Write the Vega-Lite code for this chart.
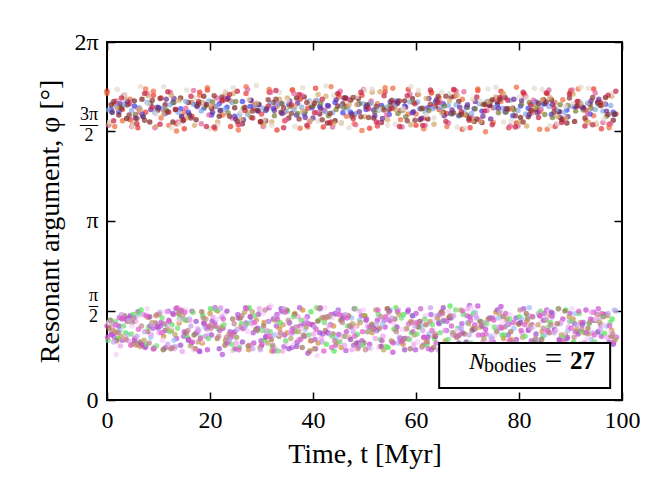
{
"$schema": "https://vega.github.io/schema/vega-lite/v6.json",
"width": 515, "height": 358,
"autosize": {"type": "none"},
"padding": {"left": 107, "top": 42, "right": 50, "bottom": 104},
"background": "white",
"config": {"view": {"stroke": "black", "strokeWidth": 2}, "font": "Liberation Serif"},
"layer": [
{"data": {"values": [
{"t":0,"p":5.42,"b":"u1"},{"t":3,"p":5.10,"b":"u1"},{"t":6,"p":4.78,"b":"u1"},{"t":9,"p":5.35,"b":"u1"},{"t":12,"p":5.05,"b":"u1"},{"t":15,"p":4.76,"b":"u1"},{"t":18,"p":5.40,"b":"u1"},{"t":21,"p":5.15,"b":"u1"},{"t":24,"p":4.80,"b":"u1"},{"t":27,"p":5.38,"b":"u1"},{"t":30,"p":5.02,"b":"u1"},{"t":33,"p":4.74,"b":"u1"},{"t":36,"p":5.44,"b":"u1"},{"t":39,"p":5.12,"b":"u1"},{"t":42,"p":4.79,"b":"u1"},{"t":45,"p":5.36,"b":"u1"},{"t":48,"p":5.00,"b":"u1"},{"t":51,"p":4.77,"b":"u1"},{"t":54,"p":5.41,"b":"u1"},{"t":57,"p":5.08,"b":"u1"},{"t":60,"p":4.82,"b":"u1"},{"t":63,"p":5.39,"b":"u1"},{"t":66,"p":5.03,"b":"u1"},{"t":69,"p":4.75,"b":"u1"},{"t":72,"p":5.43,"b":"u1"},{"t":75,"p":5.13,"b":"u1"},{"t":78,"p":4.78,"b":"u1"},{"t":81,"p":5.37,"b":"u1"},{"t":84,"p":5.06,"b":"u1"},{"t":87,"p":4.80,"b":"u1"},{"t":90,"p":5.40,"b":"u1"},{"t":93,"p":5.09,"b":"u1"},{"t":96,"p":4.76,"b":"u1"},
{"t":1.5,"p":5.20,"b":"u1"},{"t":4.5,"p":4.92,"b":"u1"},{"t":7.5,"p":5.05,"b":"u1"},{"t":10.5,"p":5.30,"b":"u1"},{"t":13.5,"p":4.85,"b":"u1"},{"t":16.5,"p":4.98,"b":"u1"},{"t":19.5,"p":5.44,"b":"u1"},{"t":22.5,"p":5.25,"b":"u1"},{"t":25.5,"p":4.83,"b":"u1"},{"t":28.5,"p":5.12,"b":"u1"},{"t":31.5,"p":5.40,"b":"u1"},{"t":34.5,"p":4.90,"b":"u1"},{"t":37.5,"p":5.28,"b":"u1"},{"t":40.5,"p":5.47,"b":"u1"},{"t":43.5,"p":4.88,"b":"u1"},{"t":46.5,"p":5.15,"b":"u1"},{"t":49.5,"p":5.35,"b":"u1"},{"t":52.5,"p":4.81,"b":"u1"},{"t":55.5,"p":5.22,"b":"u1"},{"t":58.5,"p":5.45,"b":"u1"},{"t":61.5,"p":4.95,"b":"u1"},{"t":64.5,"p":5.10,"b":"u1"},{"t":67.5,"p":5.33,"b":"u1"},{"t":70.5,"p":4.78,"b":"u1"},{"t":73.5,"p":5.18,"b":"u1"},{"t":76.5,"p":5.42,"b":"u1"},{"t":79.5,"p":4.86,"b":"u1"},{"t":82.5,"p":5.08,"b":"u1"},{"t":85.5,"p":5.38,"b":"u1"},{"t":88.5,"p":4.93,"b":"u1"},{"t":91.5,"p":5.24,"b":"u1"},{"t":94.5,"p":5.46,"b":"u1"},{"t":97.5,"p":4.84,"b":"u1"},
{"t":1.5,"p":4.80,"b":"u2"},{"t":4.5,"p":5.28,"b":"u2"},{"t":7.5,"p":5.46,"b":"u2"},{"t":10.5,"p":4.95,"b":"u2"},{"t":13.5,"p":4.72,"b":"u2"},{"t":16.5,"p":5.22,"b":"u2"},{"t":19.5,"p":5.48,"b":"u2"},{"t":22.5,"p":5.00,"b":"u2"},{"t":25.5,"p":4.74,"b":"u2"},{"t":28.5,"p":5.18,"b":"u2"},{"t":31.5,"p":5.45,"b":"u2"},{"t":34.5,"p":5.05,"b":"u2"},{"t":37.5,"p":4.77,"b":"u2"},{"t":40.5,"p":5.25,"b":"u2"},{"t":43.5,"p":5.50,"b":"u2"},{"t":46.5,"p":4.98,"b":"u2"},{"t":49.5,"p":4.73,"b":"u2"},{"t":52.5,"p":5.20,"b":"u2"},{"t":55.5,"p":5.47,"b":"u2"},{"t":58.5,"p":5.02,"b":"u2"},{"t":61.5,"p":4.76,"b":"u2"},{"t":64.5,"p":5.30,"b":"u2"},{"t":67.5,"p":5.44,"b":"u2"},{"t":70.5,"p":4.96,"b":"u2"},{"t":73.5,"p":4.71,"b":"u2"},{"t":76.5,"p":5.24,"b":"u2"},{"t":79.5,"p":5.49,"b":"u2"},{"t":82.5,"p":5.04,"b":"u2"},{"t":85.5,"p":4.75,"b":"u2"},{"t":88.5,"p":5.27,"b":"u2"},{"t":91.5,"p":5.46,"b":"u2"},{"t":94.5,"p":4.99,"b":"u2"},{"t":97.5,"p":4.78,"b":"u2"},
{"t":0,"p":5.38,"b":"u2"},{"t":3,"p":4.90,"b":"u2"},{"t":6,"p":5.12,"b":"u2"},{"t":9,"p":5.42,"b":"u2"},{"t":12,"p":4.82,"b":"u2"},{"t":15,"p":5.05,"b":"u2"},{"t":18,"p":5.35,"b":"u2"},{"t":21,"p":4.76,"b":"u2"},{"t":24,"p":5.25,"b":"u2"},{"t":27,"p":5.50,"b":"u2"},{"t":30,"p":4.88,"b":"u2"},{"t":33,"p":5.15,"b":"u2"},{"t":36,"p":5.44,"b":"u2"},{"t":39,"p":4.79,"b":"u2"},{"t":42,"p":5.08,"b":"u2"},{"t":45,"p":5.32,"b":"u2"},{"t":48,"p":4.85,"b":"u2"},{"t":51,"p":5.20,"b":"u2"},{"t":54,"p":5.48,"b":"u2"},{"t":57,"p":4.92,"b":"u2"},{"t":60,"p":5.02,"b":"u2"},{"t":63,"p":5.40,"b":"u2"},{"t":66,"p":4.80,"b":"u2"},{"t":69,"p":5.28,"b":"u2"},{"t":72,"p":5.46,"b":"u2"},{"t":75,"p":4.87,"b":"u2"},{"t":78,"p":5.10,"b":"u2"},{"t":81,"p":5.36,"b":"u2"},{"t":84,"p":4.75,"b":"u2"},{"t":87,"p":5.22,"b":"u2"},{"t":90,"p":5.43,"b":"u2"},{"t":93,"p":4.91,"b":"u2"},{"t":96,"p":5.17,"b":"u2"},
{"t":0.8,"p":5.10,"b":"u3"},{"t":3.8,"p":5.18,"b":"u3"},{"t":6.8,"p":5.02,"b":"u3"},{"t":9.8,"p":5.14,"b":"u3"},{"t":12.8,"p":5.22,"b":"u3"},{"t":15.8,"p":5.05,"b":"u3"},{"t":18.8,"p":5.12,"b":"u3"},{"t":21.8,"p":5.20,"b":"u3"},{"t":24.8,"p":4.98,"b":"u3"},{"t":27.8,"p":5.15,"b":"u3"},{"t":30.8,"p":5.08,"b":"u3"},{"t":33.8,"p":5.21,"b":"u3"},{"t":36.8,"p":5.00,"b":"u3"},{"t":39.8,"p":5.13,"b":"u3"},{"t":42.8,"p":5.17,"b":"u3"},{"t":45.8,"p":5.04,"b":"u3"},{"t":48.8,"p":5.19,"b":"u3"},{"t":51.8,"p":5.09,"b":"u3"},{"t":54.8,"p":5.01,"b":"u3"},{"t":57.8,"p":5.16,"b":"u3"},{"t":60.8,"p":5.11,"b":"u3"},{"t":63.8,"p":5.23,"b":"u3"},{"t":66.8,"p":5.03,"b":"u3"},{"t":69.8,"p":5.14,"b":"u3"},{"t":72.8,"p":5.07,"b":"u3"},{"t":75.8,"p":5.18,"b":"u3"},{"t":78.8,"p":4.99,"b":"u3"},{"t":81.8,"p":5.12,"b":"u3"},{"t":84.8,"p":5.20,"b":"u3"},{"t":87.8,"p":5.06,"b":"u3"},{"t":90.8,"p":5.15,"b":"u3"},{"t":93.8,"p":5.02,"b":"u3"},{"t":96.8,"p":5.19,"b":"u3"},
{"t":2.3,"p":5.06,"b":"u3"},{"t":5.3,"p":5.16,"b":"u3"},{"t":8.3,"p":5.21,"b":"u3"},{"t":11.3,"p":5.03,"b":"u3"},{"t":14.3,"p":5.11,"b":"u3"},{"t":17.3,"p":5.18,"b":"u3"},{"t":20.3,"p":5.00,"b":"u3"},{"t":23.3,"p":5.14,"b":"u3"},{"t":26.3,"p":5.24,"b":"u3"},{"t":29.3,"p":5.07,"b":"u3"},{"t":32.3,"p":5.12,"b":"u3"},{"t":35.3,"p":5.19,"b":"u3"},{"t":38.3,"p":5.02,"b":"u3"},{"t":41.3,"p":5.15,"b":"u3"},{"t":44.3,"p":5.22,"b":"u3"},{"t":47.3,"p":5.05,"b":"u3"},{"t":50.3,"p":5.10,"b":"u3"},{"t":53.3,"p":5.17,"b":"u3"},{"t":56.3,"p":5.25,"b":"u3"},{"t":59.3,"p":5.04,"b":"u3"},{"t":62.3,"p":5.13,"b":"u3"},{"t":65.3,"p":5.20,"b":"u3"},{"t":68.3,"p":4.99,"b":"u3"},{"t":71.3,"p":5.11,"b":"u3"},{"t":74.3,"p":5.18,"b":"u3"},{"t":77.3,"p":5.06,"b":"u3"},{"t":80.3,"p":5.16,"b":"u3"},{"t":83.3,"p":5.23,"b":"u3"},{"t":86.3,"p":5.01,"b":"u3"},{"t":89.3,"p":5.09,"b":"u3"},{"t":92.3,"p":5.14,"b":"u3"},{"t":95.3,"p":5.21,"b":"u3"},{"t":98.3,"p":5.05,"b":"u3"},
{"t":2.3,"p":5.00,"b":"u4"},{"t":5.3,"p":5.25,"b":"u4"},{"t":8.3,"p":4.88,"b":"u4"},{"t":11.3,"p":5.18,"b":"u4"},{"t":14.3,"p":5.30,"b":"u4"},{"t":17.3,"p":4.92,"b":"u4"},{"t":20.3,"p":5.12,"b":"u4"},{"t":23.3,"p":5.28,"b":"u4"},{"t":26.3,"p":4.85,"b":"u4"},{"t":29.3,"p":5.08,"b":"u4"},{"t":32.3,"p":5.22,"b":"u4"},{"t":35.3,"p":4.95,"b":"u4"},{"t":38.3,"p":5.32,"b":"u4"},{"t":41.3,"p":5.02,"b":"u4"},{"t":44.3,"p":4.90,"b":"u4"},{"t":47.3,"p":5.26,"b":"u4"},{"t":50.3,"p":5.15,"b":"u4"},{"t":53.3,"p":4.87,"b":"u4"},{"t":56.3,"p":5.20,"b":"u4"},{"t":59.3,"p":5.29,"b":"u4"},{"t":62.3,"p":4.93,"b":"u4"},{"t":65.3,"p":5.05,"b":"u4"},{"t":68.3,"p":5.24,"b":"u4"},{"t":71.3,"p":4.89,"b":"u4"},{"t":74.3,"p":5.17,"b":"u4"},{"t":77.3,"p":5.31,"b":"u4"},{"t":80.3,"p":4.96,"b":"u4"},{"t":83.3,"p":5.10,"b":"u4"},{"t":86.3,"p":5.27,"b":"u4"},{"t":89.3,"p":4.86,"b":"u4"},{"t":92.3,"p":5.14,"b":"u4"},{"t":95.3,"p":5.23,"b":"u4"},{"t":98.3,"p":4.91,"b":"u4"},
{"t":0.8,"p":5.18,"b":"u4"},{"t":3.8,"p":4.94,"b":"u4"},{"t":6.8,"p":5.28,"b":"u4"},{"t":9.8,"p":5.08,"b":"u4"},{"t":12.8,"p":4.88,"b":"u4"},{"t":15.8,"p":5.22,"b":"u4"},{"t":18.8,"p":5.33,"b":"u4"},{"t":21.8,"p":4.98,"b":"u4"},{"t":24.8,"p":5.13,"b":"u4"},{"t":27.8,"p":5.26,"b":"u4"},{"t":30.8,"p":4.90,"b":"u4"},{"t":33.8,"p":5.05,"b":"u4"},{"t":36.8,"p":5.30,"b":"u4"},{"t":39.8,"p":5.16,"b":"u4"},{"t":42.8,"p":4.86,"b":"u4"},{"t":45.8,"p":5.20,"b":"u4"},{"t":48.8,"p":5.29,"b":"u4"},{"t":51.8,"p":4.95,"b":"u4"},{"t":54.8,"p":5.10,"b":"u4"},{"t":57.8,"p":5.25,"b":"u4"},{"t":60.8,"p":4.92,"b":"u4"},{"t":63.8,"p":5.15,"b":"u4"},{"t":66.8,"p":5.32,"b":"u4"},{"t":69.8,"p":5.00,"b":"u4"},{"t":72.8,"p":4.87,"b":"u4"},{"t":75.8,"p":5.23,"b":"u4"},{"t":78.8,"p":5.12,"b":"u4"},{"t":81.8,"p":4.97,"b":"u4"},{"t":84.8,"p":5.27,"b":"u4"},{"t":87.8,"p":5.06,"b":"u4"},{"t":90.8,"p":4.89,"b":"u4"},{"t":93.8,"p":5.19,"b":"u4"},{"t":96.8,"p":5.31,"b":"u4"},
{"t":0.3,"p":4.82,"b":"u5"},{"t":3.3,"p":5.35,"b":"u5"},{"t":6.3,"p":5.05,"b":"u5"},{"t":9.3,"p":4.78,"b":"u5"},{"t":12.3,"p":5.40,"b":"u5"},{"t":15.3,"p":5.12,"b":"u5"},{"t":18.3,"p":4.85,"b":"u5"},{"t":21.3,"p":5.30,"b":"u5"},{"t":24.3,"p":4.95,"b":"u5"},{"t":27.3,"p":5.45,"b":"u5"},{"t":30.3,"p":4.80,"b":"u5"},{"t":33.3,"p":5.20,"b":"u5"},{"t":36.3,"p":5.38,"b":"u5"},{"t":39.3,"p":4.88,"b":"u5"},{"t":42.3,"p":5.08,"b":"u5"},{"t":45.3,"p":5.42,"b":"u5"},{"t":48.3,"p":4.83,"b":"u5"},{"t":51.3,"p":5.25,"b":"u5"},{"t":54.3,"p":5.00,"b":"u5"},{"t":57.3,"p":4.79,"b":"u5"},{"t":60.3,"p":5.36,"b":"u5"},{"t":63.3,"p":5.15,"b":"u5"},{"t":66.3,"p":4.86,"b":"u5"},{"t":69.3,"p":5.41,"b":"u5"},{"t":72.3,"p":4.92,"b":"u5"},{"t":75.3,"p":5.28,"b":"u5"},{"t":78.3,"p":4.81,"b":"u5"},{"t":81.3,"p":5.33,"b":"u5"},{"t":84.3,"p":5.10,"b":"u5"},{"t":87.3,"p":4.84,"b":"u5"},{"t":90.3,"p":5.44,"b":"u5"},{"t":93.3,"p":5.03,"b":"u5"},{"t":96.3,"p":4.87,"b":"u5"},
{"t":1.8,"p":5.25,"b":"u5"},{"t":4.8,"p":4.80,"b":"u5"},{"t":7.8,"p":5.38,"b":"u5"},{"t":10.8,"p":5.10,"b":"u5"},{"t":13.8,"p":4.88,"b":"u5"},{"t":16.8,"p":5.43,"b":"u5"},{"t":19.8,"p":5.00,"b":"u5"},{"t":22.8,"p":5.30,"b":"u5"},{"t":25.8,"p":4.84,"b":"u5"},{"t":28.8,"p":5.18,"b":"u5"},{"t":31.8,"p":5.40,"b":"u5"},{"t":34.8,"p":4.92,"b":"u5"},{"t":37.8,"p":5.35,"b":"u5"},{"t":40.8,"p":5.05,"b":"u5"},{"t":43.8,"p":4.79,"b":"u5"},{"t":46.8,"p":5.28,"b":"u5"},{"t":49.8,"p":5.45,"b":"u5"},{"t":52.8,"p":4.86,"b":"u5"},{"t":55.8,"p":5.14,"b":"u5"},{"t":58.8,"p":5.37,"b":"u5"},{"t":61.8,"p":4.82,"b":"u5"},{"t":64.8,"p":5.22,"b":"u5"},{"t":67.8,"p":5.42,"b":"u5"},{"t":70.8,"p":4.96,"b":"u5"},{"t":73.8,"p":5.08,"b":"u5"},{"t":76.8,"p":5.34,"b":"u5"},{"t":79.8,"p":4.81,"b":"u5"},{"t":82.8,"p":5.26,"b":"u5"},{"t":85.8,"p":5.44,"b":"u5"},{"t":88.8,"p":4.90,"b":"u5"},{"t":91.8,"p":5.16,"b":"u5"},{"t":94.8,"p":5.39,"b":"u5"},{"t":97.8,"p":4.85,"b":"u5"},
{"t":1.8,"p":5.15,"b":"u6"},{"t":4.8,"p":5.08,"b":"u6"},{"t":7.8,"p":5.22,"b":"u6"},{"t":10.8,"p":5.12,"b":"u6"},{"t":13.8,"p":5.05,"b":"u6"},{"t":16.8,"p":5.19,"b":"u6"},{"t":19.8,"p":5.25,"b":"u6"},{"t":22.8,"p":5.10,"b":"u6"},{"t":25.8,"p":5.02,"b":"u6"},{"t":28.8,"p":5.17,"b":"u6"},{"t":31.8,"p":5.21,"b":"u6"},{"t":34.8,"p":5.07,"b":"u6"},{"t":37.8,"p":5.14,"b":"u6"},{"t":40.8,"p":5.26,"b":"u6"},{"t":43.8,"p":5.04,"b":"u6"},{"t":46.8,"p":5.11,"b":"u6"},{"t":49.8,"p":5.20,"b":"u6"},{"t":52.8,"p":5.09,"b":"u6"},{"t":55.8,"p":5.16,"b":"u6"},{"t":58.8,"p":5.23,"b":"u6"},{"t":61.8,"p":5.06,"b":"u6"},{"t":64.8,"p":5.13,"b":"u6"},{"t":67.8,"p":5.18,"b":"u6"},{"t":70.8,"p":5.03,"b":"u6"},{"t":73.8,"p":5.24,"b":"u6"},{"t":76.8,"p":5.12,"b":"u6"},{"t":79.8,"p":5.08,"b":"u6"},{"t":82.8,"p":5.19,"b":"u6"},{"t":85.8,"p":5.15,"b":"u6"},{"t":88.8,"p":5.05,"b":"u6"},{"t":91.8,"p":5.22,"b":"u6"},{"t":94.8,"p":5.10,"b":"u6"},{"t":97.8,"p":5.17,"b":"u6"},
{"t":0.3,"p":5.09,"b":"u6"},{"t":3.3,"p":5.20,"b":"u6"},{"t":6.3,"p":5.13,"b":"u6"},{"t":9.3,"p":5.04,"b":"u6"},{"t":12.3,"p":5.18,"b":"u6"},{"t":15.3,"p":5.24,"b":"u6"},{"t":18.3,"p":5.07,"b":"u6"},{"t":21.3,"p":5.15,"b":"u6"},{"t":24.3,"p":5.22,"b":"u6"},{"t":27.3,"p":5.01,"b":"u6"},{"t":30.3,"p":5.12,"b":"u6"},{"t":33.3,"p":5.19,"b":"u6"},{"t":36.3,"p":5.10,"b":"u6"},{"t":39.3,"p":5.25,"b":"u6"},{"t":42.3,"p":5.06,"b":"u6"},{"t":45.3,"p":5.16,"b":"u6"},{"t":48.3,"p":5.03,"b":"u6"},{"t":51.3,"p":5.21,"b":"u6"},{"t":54.3,"p":5.14,"b":"u6"},{"t":57.3,"p":5.08,"b":"u6"},{"t":60.3,"p":5.23,"b":"u6"},{"t":63.3,"p":5.11,"b":"u6"},{"t":66.3,"p":5.17,"b":"u6"},{"t":69.3,"p":5.05,"b":"u6"},{"t":72.3,"p":5.20,"b":"u6"},{"t":75.3,"p":5.13,"b":"u6"},{"t":78.3,"p":5.26,"b":"u6"},{"t":81.3,"p":5.02,"b":"u6"},{"t":84.3,"p":5.18,"b":"u6"},{"t":87.3,"p":5.09,"b":"u6"},{"t":90.3,"p":5.15,"b":"u6"},{"t":93.3,"p":5.21,"b":"u6"},{"t":96.3,"p":5.07,"b":"u6"},
{"t":1,"p":5.05,"b":"u7"},{"t":4,"p":5.18,"b":"u7"},{"t":7,"p":4.98,"b":"u7"},{"t":10,"p":5.12,"b":"u7"},{"t":13,"p":5.22,"b":"u7"},{"t":16,"p":5.00,"b":"u7"},{"t":19,"p":5.15,"b":"u7"},{"t":22,"p":5.08,"b":"u7"},{"t":25,"p":5.24,"b":"u7"},{"t":28,"p":4.96,"b":"u7"},{"t":31,"p":5.10,"b":"u7"},{"t":34,"p":5.20,"b":"u7"},{"t":37,"p":5.03,"b":"u7"},{"t":40,"p":5.16,"b":"u7"},{"t":43,"p":4.99,"b":"u7"},{"t":46,"p":5.13,"b":"u7"},{"t":49,"p":5.21,"b":"u7"},{"t":52,"p":5.06,"b":"u7"},{"t":55,"p":5.17,"b":"u7"},{"t":58,"p":4.97,"b":"u7"},{"t":61,"p":5.11,"b":"u7"},{"t":64,"p":5.23,"b":"u7"},{"t":67,"p":5.02,"b":"u7"},{"t":70,"p":5.14,"b":"u7"},{"t":73,"p":5.19,"b":"u7"},{"t":76,"p":5.04,"b":"u7"},{"t":79,"p":5.09,"b":"u7"},{"t":82,"p":5.22,"b":"u7"},{"t":85,"p":5.01,"b":"u7"},{"t":88,"p":5.18,"b":"u7"},{"t":91,"p":5.07,"b":"u7"},{"t":94,"p":5.12,"b":"u7"},{"t":97,"p":4.98,"b":"u7"},
{"t":2.5,"p":5.14,"b":"u7"},{"t":5.5,"p":5.01,"b":"u7"},{"t":8.5,"p":5.20,"b":"u7"},{"t":11.5,"p":5.09,"b":"u7"},{"t":14.5,"p":4.97,"b":"u7"},{"t":17.5,"p":5.17,"b":"u7"},{"t":20.5,"p":5.23,"b":"u7"},{"t":23.5,"p":5.04,"b":"u7"},{"t":26.5,"p":5.12,"b":"u7"},{"t":29.5,"p":5.19,"b":"u7"},{"t":32.5,"p":4.99,"b":"u7"},{"t":35.5,"p":5.15,"b":"u7"},{"t":38.5,"p":5.06,"b":"u7"},{"t":41.5,"p":5.21,"b":"u7"},{"t":44.5,"p":5.10,"b":"u7"},{"t":47.5,"p":4.98,"b":"u7"},{"t":50.5,"p":5.18,"b":"u7"},{"t":53.5,"p":5.13,"b":"u7"},{"t":56.5,"p":5.03,"b":"u7"},{"t":59.5,"p":5.22,"b":"u7"},{"t":62.5,"p":5.08,"b":"u7"},{"t":65.5,"p":5.16,"b":"u7"},{"t":68.5,"p":5.00,"b":"u7"},{"t":71.5,"p":5.11,"b":"u7"},{"t":74.5,"p":5.24,"b":"u7"},{"t":77.5,"p":5.05,"b":"u7"},{"t":80.5,"p":5.19,"b":"u7"},{"t":83.5,"p":5.14,"b":"u7"},{"t":86.5,"p":4.96,"b":"u7"},{"t":89.5,"p":5.17,"b":"u7"},{"t":92.5,"p":5.09,"b":"u7"},{"t":95.5,"p":5.20,"b":"u7"},{"t":98.5,"p":5.02,"b":"u7"},
{"t":2.5,"p":5.20,"b":"u8"},{"t":5.5,"p":4.95,"b":"u8"},{"t":8.5,"p":5.10,"b":"u8"},{"t":11.5,"p":5.28,"b":"u8"},{"t":14.5,"p":4.98,"b":"u8"},{"t":17.5,"p":5.15,"b":"u8"},{"t":20.5,"p":5.05,"b":"u8"},{"t":23.5,"p":5.30,"b":"u8"},{"t":26.5,"p":4.92,"b":"u8"},{"t":29.5,"p":5.18,"b":"u8"},{"t":32.5,"p":5.08,"b":"u8"},{"t":35.5,"p":5.25,"b":"u8"},{"t":38.5,"p":4.96,"b":"u8"},{"t":41.5,"p":5.12,"b":"u8"},{"t":44.5,"p":5.27,"b":"u8"},{"t":47.5,"p":5.02,"b":"u8"},{"t":50.5,"p":5.17,"b":"u8"},{"t":53.5,"p":4.94,"b":"u8"},{"t":56.5,"p":5.22,"b":"u8"},{"t":59.5,"p":5.06,"b":"u8"},{"t":62.5,"p":5.29,"b":"u8"},{"t":65.5,"p":4.99,"b":"u8"},{"t":68.5,"p":5.14,"b":"u8"},{"t":71.5,"p":5.24,"b":"u8"},{"t":74.5,"p":4.93,"b":"u8"},{"t":77.5,"p":5.11,"b":"u8"},{"t":80.5,"p":5.26,"b":"u8"},{"t":83.5,"p":5.04,"b":"u8"},{"t":86.5,"p":5.19,"b":"u8"},{"t":89.5,"p":4.97,"b":"u8"},{"t":92.5,"p":5.13,"b":"u8"},{"t":95.5,"p":5.28,"b":"u8"},{"t":98.5,"p":5.01,"b":"u8"},
{"t":1,"p":5.05,"b":"u8"},{"t":4,"p":5.24,"b":"u8"},{"t":7,"p":4.97,"b":"u8"},{"t":10,"p":5.13,"b":"u8"},{"t":13,"p":5.29,"b":"u8"},{"t":16,"p":5.00,"b":"u8"},{"t":19,"p":5.19,"b":"u8"},{"t":22,"p":5.08,"b":"u8"},{"t":25,"p":4.93,"b":"u8"},{"t":28,"p":5.26,"b":"u8"},{"t":31,"p":5.11,"b":"u8"},{"t":34,"p":5.03,"b":"u8"},{"t":37,"p":5.21,"b":"u8"},{"t":40,"p":4.95,"b":"u8"},{"t":43,"p":5.16,"b":"u8"},{"t":46,"p":5.30,"b":"u8"},{"t":49,"p":5.06,"b":"u8"},{"t":52,"p":4.99,"b":"u8"},{"t":55,"p":5.23,"b":"u8"},{"t":58,"p":5.14,"b":"u8"},{"t":61,"p":4.94,"b":"u8"},{"t":64,"p":5.27,"b":"u8"},{"t":67,"p":5.09,"b":"u8"},{"t":70,"p":5.18,"b":"u8"},{"t":73,"p":4.98,"b":"u8"},{"t":76,"p":5.12,"b":"u8"},{"t":79,"p":5.28,"b":"u8"},{"t":82,"p":5.01,"b":"u8"},{"t":85,"p":5.20,"b":"u8"},{"t":88,"p":4.96,"b":"u8"},{"t":91,"p":5.15,"b":"u8"},{"t":94,"p":5.25,"b":"u8"},{"t":97,"p":5.07,"b":"u8"},
{"t":0.5,"p":4.85,"b":"u9"},{"t":3.5,"p":5.30,"b":"u9"},{"t":6.5,"p":5.10,"b":"u9"},{"t":9.5,"p":4.80,"b":"u9"},{"t":12.5,"p":5.35,"b":"u9"},{"t":15.5,"p":4.95,"b":"u9"},{"t":18.5,"p":5.22,"b":"u9"},{"t":21.5,"p":4.88,"b":"u9"},{"t":24.5,"p":5.38,"b":"u9"},{"t":27.5,"p":5.05,"b":"u9"},{"t":30.5,"p":4.83,"b":"u9"},{"t":33.5,"p":5.28,"b":"u9"},{"t":36.5,"p":5.15,"b":"u9"},{"t":39.5,"p":4.90,"b":"u9"},{"t":42.5,"p":5.33,"b":"u9"},{"t":45.5,"p":4.86,"b":"u9"},{"t":48.5,"p":5.18,"b":"u9"},{"t":51.5,"p":5.40,"b":"u9"},{"t":54.5,"p":4.92,"b":"u9"},{"t":57.5,"p":5.08,"b":"u9"},{"t":60.5,"p":5.36,"b":"u9"},{"t":63.5,"p":4.84,"b":"u9"},{"t":66.5,"p":5.25,"b":"u9"},{"t":69.5,"p":5.00,"b":"u9"},{"t":72.5,"p":4.89,"b":"u9"},{"t":75.5,"p":5.32,"b":"u9"},{"t":78.5,"p":5.12,"b":"u9"},{"t":81.5,"p":4.81,"b":"u9"},{"t":84.5,"p":5.27,"b":"u9"},{"t":87.5,"p":4.97,"b":"u9"},{"t":90.5,"p":5.37,"b":"u9"},{"t":93.5,"p":4.87,"b":"u9"},{"t":96.5,"p":5.20,"b":"u9"},
{"t":2,"p":5.12,"b":"u9"},{"t":5,"p":4.86,"b":"u9"},{"t":8,"p":5.34,"b":"u9"},{"t":11,"p":5.02,"b":"u9"},{"t":14,"p":5.26,"b":"u9"},{"t":17,"p":4.82,"b":"u9"},{"t":20,"p":5.16,"b":"u9"},{"t":23,"p":5.39,"b":"u9"},{"t":26,"p":4.93,"b":"u9"},{"t":29,"p":5.21,"b":"u9"},{"t":32,"p":4.88,"b":"u9"},{"t":35,"p":5.30,"b":"u9"},{"t":38,"p":5.07,"b":"u9"},{"t":41,"p":5.36,"b":"u9"},{"t":44,"p":4.85,"b":"u9"},{"t":47,"p":5.18,"b":"u9"},{"t":50,"p":4.97,"b":"u9"},{"t":53,"p":5.41,"b":"u9"},{"t":56,"p":5.10,"b":"u9"},{"t":59,"p":4.83,"b":"u9"},{"t":62,"p":5.29,"b":"u9"},{"t":65,"p":5.04,"b":"u9"},{"t":68,"p":5.35,"b":"u9"},{"t":71,"p":4.90,"b":"u9"},{"t":74,"p":5.23,"b":"u9"},{"t":77,"p":5.38,"b":"u9"},{"t":80,"p":4.87,"b":"u9"},{"t":83,"p":5.14,"b":"u9"},{"t":86,"p":5.31,"b":"u9"},{"t":89,"p":4.95,"b":"u9"},{"t":92,"p":5.20,"b":"u9"},{"t":95,"p":4.84,"b":"u9"},{"t":98,"p":5.33,"b":"u9"},
{"t":2,"p":5.45,"b":"u10"},{"t":5,"p":4.80,"b":"u10"},{"t":8,"p":5.20,"b":"u10"},{"t":11,"p":5.50,"b":"u10"},{"t":14,"p":4.85,"b":"u10"},{"t":17,"p":5.30,"b":"u10"},{"t":20,"p":4.76,"b":"u10"},{"t":23,"p":5.42,"b":"u10"},{"t":26,"p":5.05,"b":"u10"},{"t":29,"p":5.52,"b":"u10"},{"t":32,"p":4.82,"b":"u10"},{"t":35,"p":5.25,"b":"u10"},{"t":38,"p":5.48,"b":"u10"},{"t":41,"p":4.90,"b":"u10"},{"t":44,"p":5.35,"b":"u10"},{"t":47,"p":4.78,"b":"u10"},{"t":50,"p":5.44,"b":"u10"},{"t":53,"p":5.10,"b":"u10"},{"t":56,"p":4.84,"b":"u10"},{"t":59,"p":5.50,"b":"u10"},{"t":62,"p":5.00,"b":"u10"},{"t":65,"p":5.40,"b":"u10"},{"t":68,"p":4.79,"b":"u10"},{"t":71,"p":5.28,"b":"u10"},{"t":74,"p":5.46,"b":"u10"},{"t":77,"p":4.88,"b":"u10"},{"t":80,"p":5.32,"b":"u10"},{"t":83,"p":5.47,"b":"u10"},{"t":86,"p":4.81,"b":"u10"},{"t":89,"p":5.15,"b":"u10"},{"t":92,"p":5.49,"b":"u10"},{"t":95,"p":4.86,"b":"u10"},{"t":98,"p":5.38,"b":"u10"},
{"t":0.5,"p":4.88,"b":"u10"},{"t":3.5,"p":5.36,"b":"u10"},{"t":6.5,"p":5.50,"b":"u10"},{"t":9.5,"p":5.02,"b":"u10"},{"t":12.5,"p":4.78,"b":"u10"},{"t":15.5,"p":5.44,"b":"u10"},{"t":18.5,"p":5.18,"b":"u10"},{"t":21.5,"p":4.83,"b":"u10"},{"t":24.5,"p":5.48,"b":"u10"},{"t":27.5,"p":5.28,"b":"u10"},{"t":30.5,"p":4.92,"b":"u10"},{"t":33.5,"p":5.40,"b":"u10"},{"t":36.5,"p":4.80,"b":"u10"},{"t":39.5,"p":5.22,"b":"u10"},{"t":42.5,"p":5.51,"b":"u10"},{"t":45.5,"p":4.87,"b":"u10"},{"t":48.5,"p":5.33,"b":"u10"},{"t":51.5,"p":5.46,"b":"u10"},{"t":54.5,"p":4.82,"b":"u10"},{"t":57.5,"p":5.12,"b":"u10"},{"t":60.5,"p":5.43,"b":"u10"},{"t":63.5,"p":4.95,"b":"u10"},{"t":66.5,"p":5.38,"b":"u10"},{"t":69.5,"p":4.77,"b":"u10"},{"t":72.5,"p":5.25,"b":"u10"},{"t":75.5,"p":5.49,"b":"u10"},{"t":78.5,"p":4.90,"b":"u10"},{"t":81.5,"p":5.30,"b":"u10"},{"t":84.5,"p":5.45,"b":"u10"},{"t":87.5,"p":4.85,"b":"u10"},{"t":90.5,"p":5.20,"b":"u10"},{"t":93.5,"p":5.47,"b":"u10"},{"t":96.5,"p":4.93,"b":"u10"},
{"t":1.3,"p":4.90,"b":"u11"},{"t":4.3,"p":5.20,"b":"u11"},{"t":7.3,"p":5.38,"b":"u11"},{"t":10.3,"p":4.84,"b":"u11"},{"t":13.3,"p":5.10,"b":"u11"},{"t":16.3,"p":5.33,"b":"u11"},{"t":19.3,"p":4.80,"b":"u11"},{"t":22.3,"p":5.26,"b":"u11"},{"t":25.3,"p":5.42,"b":"u11"},{"t":28.3,"p":4.95,"b":"u11"},{"t":31.3,"p":5.16,"b":"u11"},{"t":34.3,"p":4.78,"b":"u11"},{"t":37.3,"p":5.36,"b":"u11"},{"t":40.3,"p":5.04,"b":"u11"},{"t":43.3,"p":4.86,"b":"u11"},{"t":46.3,"p":5.30,"b":"u11"},{"t":49.3,"p":5.40,"b":"u11"},{"t":52.3,"p":4.88,"b":"u11"},{"t":55.3,"p":5.12,"b":"u11"},{"t":58.3,"p":5.34,"b":"u11"},{"t":61.3,"p":4.82,"b":"u11"},{"t":64.3,"p":5.22,"b":"u11"},{"t":67.3,"p":5.45,"b":"u11"},{"t":70.3,"p":4.91,"b":"u11"},{"t":73.3,"p":5.07,"b":"u11"},{"t":76.3,"p":5.31,"b":"u11"},{"t":79.3,"p":4.79,"b":"u11"},{"t":82.3,"p":5.18,"b":"u11"},{"t":85.3,"p":5.39,"b":"u11"},{"t":88.3,"p":4.87,"b":"u11"},{"t":91.3,"p":5.24,"b":"u11"},{"t":94.3,"p":4.83,"b":"u11"},{"t":97.3,"p":5.35,"b":"u11"},
{"t":2.8,"p":5.30,"b":"u11"},{"t":5.8,"p":4.85,"b":"u11"},{"t":8.8,"p":5.14,"b":"u11"},{"t":11.8,"p":5.41,"b":"u11"},{"t":14.8,"p":4.92,"b":"u11"},{"t":17.8,"p":5.24,"b":"u11"},{"t":20.8,"p":4.79,"b":"u11"},{"t":23.8,"p":5.36,"b":"u11"},{"t":26.8,"p":5.08,"b":"u11"},{"t":29.8,"p":4.88,"b":"u11"},{"t":32.8,"p":5.43,"b":"u11"},{"t":35.8,"p":5.18,"b":"u11"},{"t":38.8,"p":4.82,"b":"u11"},{"t":41.8,"p":5.28,"b":"u11"},{"t":44.8,"p":5.38,"b":"u11"},{"t":47.8,"p":4.94,"b":"u11"},{"t":50.8,"p":5.11,"b":"u11"},{"t":53.8,"p":5.34,"b":"u11"},{"t":56.8,"p":4.80,"b":"u11"},{"t":59.8,"p":5.20,"b":"u11"},{"t":62.8,"p":5.44,"b":"u11"},{"t":65.8,"p":4.89,"b":"u11"},{"t":68.8,"p":5.06,"b":"u11"},{"t":71.8,"p":5.32,"b":"u11"},{"t":74.8,"p":4.83,"b":"u11"},{"t":77.8,"p":5.26,"b":"u11"},{"t":80.8,"p":5.40,"b":"u11"},{"t":83.8,"p":4.96,"b":"u11"},{"t":86.8,"p":5.13,"b":"u11"},{"t":89.8,"p":5.37,"b":"u11"},{"t":92.8,"p":4.81,"b":"u11"},{"t":95.8,"p":5.22,"b":"u11"},{"t":98.8,"p":5.42,"b":"u11"},
{"t":2.8,"p":5.12,"b":"u12"},{"t":5.8,"p":4.94,"b":"u12"},{"t":8.8,"p":5.26,"b":"u12"},{"t":11.8,"p":5.06,"b":"u12"},{"t":14.8,"p":4.90,"b":"u12"},{"t":17.8,"p":5.20,"b":"u12"},{"t":20.8,"p":5.34,"b":"u12"},{"t":23.8,"p":4.98,"b":"u12"},{"t":26.8,"p":5.14,"b":"u12"},{"t":29.8,"p":4.89,"b":"u12"},{"t":32.8,"p":5.28,"b":"u12"},{"t":35.8,"p":5.03,"b":"u12"},{"t":38.8,"p":5.22,"b":"u12"},{"t":41.8,"p":4.92,"b":"u12"},{"t":44.8,"p":5.16,"b":"u12"},{"t":47.8,"p":5.31,"b":"u12"},{"t":50.8,"p":4.96,"b":"u12"},{"t":53.8,"p":5.09,"b":"u12"},{"t":56.8,"p":5.25,"b":"u12"},{"t":59.8,"p":4.91,"b":"u12"},{"t":62.8,"p":5.19,"b":"u12"},{"t":65.8,"p":5.33,"b":"u12"},{"t":68.8,"p":5.01,"b":"u12"},{"t":71.8,"p":4.93,"b":"u12"},{"t":74.8,"p":5.27,"b":"u12"},{"t":77.8,"p":5.11,"b":"u12"},{"t":80.8,"p":4.88,"b":"u12"},{"t":83.8,"p":5.21,"b":"u12"},{"t":86.8,"p":5.05,"b":"u12"},{"t":89.8,"p":5.30,"b":"u12"},{"t":92.8,"p":4.95,"b":"u12"},{"t":95.8,"p":5.17,"b":"u12"},{"t":98.8,"p":5.02,"b":"u12"},
{"t":1.3,"p":5.24,"b":"u12"},{"t":4.3,"p":5.00,"b":"u12"},{"t":7.3,"p":4.91,"b":"u12"},{"t":10.3,"p":5.29,"b":"u12"},{"t":13.3,"p":5.10,"b":"u12"},{"t":16.3,"p":4.95,"b":"u12"},{"t":19.3,"p":5.18,"b":"u12"},{"t":22.3,"p":5.32,"b":"u12"},{"t":25.3,"p":4.89,"b":"u12"},{"t":28.3,"p":5.07,"b":"u12"},{"t":31.3,"p":5.27,"b":"u12"},{"t":34.3,"p":5.13,"b":"u12"},{"t":37.3,"p":4.93,"b":"u12"},{"t":40.3,"p":5.21,"b":"u12"},{"t":43.3,"p":5.03,"b":"u12"},{"t":46.3,"p":5.30,"b":"u12"},{"t":49.3,"p":4.97,"b":"u12"},{"t":52.3,"p":5.15,"b":"u12"},{"t":55.3,"p":5.26,"b":"u12"},{"t":58.3,"p":4.90,"b":"u12"},{"t":61.3,"p":5.12,"b":"u12"},{"t":64.3,"p":5.33,"b":"u12"},{"t":67.3,"p":5.04,"b":"u12"},{"t":70.3,"p":4.94,"b":"u12"},{"t":73.3,"p":5.19,"b":"u12"},{"t":76.3,"p":5.28,"b":"u12"},{"t":79.3,"p":4.99,"b":"u12"},{"t":82.3,"p":5.08,"b":"u12"},{"t":85.3,"p":5.23,"b":"u12"},{"t":88.3,"p":4.92,"b":"u12"},{"t":91.3,"p":5.16,"b":"u12"},{"t":94.3,"p":5.31,"b":"u12"},{"t":97.3,"p":5.01,"b":"u12"},
{"t":0,"p":1.30,"b":"l1"},{"t":3,"p":1.05,"b":"l1"},{"t":6,"p":1.55,"b":"l1"},{"t":9,"p":0.90,"b":"l1"},{"t":12,"p":1.40,"b":"l1"},{"t":15,"p":1.20,"b":"l1"},{"t":18,"p":0.85,"b":"l1"},{"t":21,"p":1.62,"b":"l1"},{"t":24,"p":1.10,"b":"l1"},{"t":27,"p":1.35,"b":"l1"},{"t":30,"p":0.95,"b":"l1"},{"t":33,"p":1.50,"b":"l1"},{"t":36,"p":1.25,"b":"l1"},{"t":39,"p":0.82,"b":"l1"},{"t":42,"p":1.45,"b":"l1"},{"t":45,"p":1.15,"b":"l1"},{"t":48,"p":1.60,"b":"l1"},{"t":51,"p":0.98,"b":"l1"},{"t":54,"p":1.28,"b":"l1"},{"t":57,"p":1.08,"b":"l1"},{"t":60,"p":1.52,"b":"l1"},{"t":63,"p":0.88,"b":"l1"},{"t":66,"p":1.38,"b":"l1"},{"t":69,"p":1.18,"b":"l1"},{"t":72,"p":1.65,"b":"l1"},{"t":75,"p":1.02,"b":"l1"},{"t":78,"p":1.33,"b":"l1"},{"t":81,"p":0.92,"b":"l1"},{"t":84,"p":1.48,"b":"l1"},{"t":87,"p":1.22,"b":"l1"},{"t":90,"p":0.86,"b":"l1"},{"t":93,"p":1.58,"b":"l1"},{"t":96,"p":1.12,"b":"l1"},
{"t":1.5,"p":1.18,"b":"l1"},{"t":4.5,"p":1.48,"b":"l1"},{"t":7.5,"p":0.94,"b":"l1"},{"t":10.5,"p":1.36,"b":"l1"},{"t":13.5,"p":1.08,"b":"l1"},{"t":16.5,"p":1.56,"b":"l1"},{"t":19.5,"p":0.88,"b":"l1"},{"t":22.5,"p":1.26,"b":"l1"},{"t":25.5,"p":1.44,"b":"l1"},{"t":28.5,"p":1.00,"b":"l1"},{"t":31.5,"p":1.62,"b":"l1"},{"t":34.5,"p":1.14,"b":"l1"},{"t":37.5,"p":1.30,"b":"l1"},{"t":40.5,"p":0.90,"b":"l1"},{"t":43.5,"p":1.50,"b":"l1"},{"t":46.5,"p":1.20,"b":"l1"},{"t":49.5,"p":1.04,"b":"l1"},{"t":52.5,"p":1.40,"b":"l1"},{"t":55.5,"p":0.84,"b":"l1"},{"t":58.5,"p":1.58,"b":"l1"},{"t":61.5,"p":1.10,"b":"l1"},{"t":64.5,"p":1.34,"b":"l1"},{"t":67.5,"p":0.96,"b":"l1"},{"t":70.5,"p":1.46,"b":"l1"},{"t":73.5,"p":1.24,"b":"l1"},{"t":76.5,"p":1.64,"b":"l1"},{"t":79.5,"p":1.06,"b":"l1"},{"t":82.5,"p":1.32,"b":"l1"},{"t":85.5,"p":0.86,"b":"l1"},{"t":88.5,"p":1.42,"b":"l1"},{"t":91.5,"p":1.16,"b":"l1"},{"t":94.5,"p":1.54,"b":"l1"},{"t":97.5,"p":1.02,"b":"l1"},
{"t":1.4,"p":1.10,"b":"l2"},{"t":4.4,"p":1.45,"b":"l2"},{"t":7.4,"p":0.92,"b":"l2"},{"t":10.4,"p":1.30,"b":"l2"},{"t":13.4,"p":1.60,"b":"l2"},{"t":16.4,"p":1.00,"b":"l2"},{"t":19.4,"p":1.25,"b":"l2"},{"t":22.4,"p":0.80,"b":"l2"},{"t":25.4,"p":1.50,"b":"l2"},{"t":28.4,"p":1.18,"b":"l2"},{"t":31.4,"p":1.38,"b":"l2"},{"t":34.4,"p":0.94,"b":"l2"},{"t":37.4,"p":1.62,"b":"l2"},{"t":40.4,"p":1.06,"b":"l2"},{"t":43.4,"p":1.32,"b":"l2"},{"t":46.4,"p":0.87,"b":"l2"},{"t":49.4,"p":1.48,"b":"l2"},{"t":52.4,"p":1.22,"b":"l2"},{"t":55.4,"p":1.02,"b":"l2"},{"t":58.4,"p":1.55,"b":"l2"},{"t":61.4,"p":0.96,"b":"l2"},{"t":64.4,"p":1.36,"b":"l2"},{"t":67.4,"p":1.14,"b":"l2"},{"t":70.4,"p":1.66,"b":"l2"},{"t":73.4,"p":0.90,"b":"l2"},{"t":76.4,"p":1.28,"b":"l2"},{"t":79.4,"p":1.44,"b":"l2"},{"t":82.4,"p":1.04,"b":"l2"},{"t":85.4,"p":1.58,"b":"l2"},{"t":88.4,"p":0.84,"b":"l2"},{"t":91.4,"p":1.20,"b":"l2"},{"t":94.4,"p":1.40,"b":"l2"},{"t":97.4,"p":0.98,"b":"l2"},
{"t":2.9,"p":1.42,"b":"l2"},{"t":5.9,"p":0.98,"b":"l2"},{"t":8.9,"p":1.26,"b":"l2"},{"t":11.9,"p":1.56,"b":"l2"},{"t":14.9,"p":1.12,"b":"l2"},{"t":17.9,"p":0.86,"b":"l2"},{"t":20.9,"p":1.36,"b":"l2"},{"t":23.9,"p":1.20,"b":"l2"},{"t":26.9,"p":1.62,"b":"l2"},{"t":29.9,"p":1.04,"b":"l2"},{"t":32.9,"p":1.30,"b":"l2"},{"t":35.9,"p":0.92,"b":"l2"},{"t":38.9,"p":1.46,"b":"l2"},{"t":41.9,"p":1.16,"b":"l2"},{"t":44.9,"p":1.58,"b":"l2"},{"t":47.9,"p":0.96,"b":"l2"},{"t":50.9,"p":1.28,"b":"l2"},{"t":53.9,"p":1.40,"b":"l2"},{"t":56.9,"p":1.08,"b":"l2"},{"t":59.9,"p":0.88,"b":"l2"},{"t":62.9,"p":1.50,"b":"l2"},{"t":65.9,"p":1.22,"b":"l2"},{"t":68.9,"p":1.34,"b":"l2"},{"t":71.9,"p":0.82,"b":"l2"},{"t":74.9,"p":1.44,"b":"l2"},{"t":77.9,"p":1.14,"b":"l2"},{"t":80.9,"p":1.60,"b":"l2"},{"t":83.9,"p":1.00,"b":"l2"},{"t":86.9,"p":1.24,"b":"l2"},{"t":89.9,"p":1.52,"b":"l2"},{"t":92.9,"p":0.94,"b":"l2"},{"t":95.9,"p":1.32,"b":"l2"},{"t":98.9,"p":1.10,"b":"l2"},
{"t":0.6,"p":1.40,"b":"l3"},{"t":3.6,"p":1.18,"b":"l3"},{"t":6.6,"p":1.58,"b":"l3"},{"t":9.6,"p":0.95,"b":"l3"},{"t":12.6,"p":1.32,"b":"l3"},{"t":15.6,"p":1.10,"b":"l3"},{"t":18.6,"p":1.48,"b":"l3"},{"t":21.6,"p":1.25,"b":"l3"},{"t":24.6,"p":0.88,"b":"l3"},{"t":27.6,"p":1.62,"b":"l3"},{"t":30.6,"p":1.05,"b":"l3"},{"t":33.6,"p":1.36,"b":"l3"},{"t":36.6,"p":1.20,"b":"l3"},{"t":39.6,"p":1.55,"b":"l3"},{"t":42.6,"p":0.98,"b":"l3"},{"t":45.6,"p":1.42,"b":"l3"},{"t":48.6,"p":1.15,"b":"l3"},{"t":51.6,"p":1.30,"b":"l3"},{"t":54.6,"p":0.92,"b":"l3"},{"t":57.6,"p":1.50,"b":"l3"},{"t":60.6,"p":1.28,"b":"l3"},{"t":63.6,"p":1.08,"b":"l3"},{"t":66.6,"p":1.65,"b":"l3"},{"t":69.6,"p":1.00,"b":"l3"},{"t":72.6,"p":1.38,"b":"l3"},{"t":75.6,"p":1.22,"b":"l3"},{"t":78.6,"p":0.85,"b":"l3"},{"t":81.6,"p":1.45,"b":"l3"},{"t":84.6,"p":1.12,"b":"l3"},{"t":87.6,"p":1.60,"b":"l3"},{"t":90.6,"p":1.02,"b":"l3"},{"t":93.6,"p":1.34,"b":"l3"},{"t":96.6,"p":1.17,"b":"l3"},
{"t":2.1,"p":1.08,"b":"l3"},{"t":5.1,"p":1.50,"b":"l3"},{"t":8.1,"p":1.28,"b":"l3"},{"t":11.1,"p":0.90,"b":"l3"},{"t":14.1,"p":1.44,"b":"l3"},{"t":17.1,"p":1.16,"b":"l3"},{"t":20.1,"p":1.60,"b":"l3"},{"t":23.1,"p":1.02,"b":"l3"},{"t":26.1,"p":1.34,"b":"l3"},{"t":29.1,"p":1.22,"b":"l3"},{"t":32.1,"p":0.94,"b":"l3"},{"t":35.1,"p":1.56,"b":"l3"},{"t":38.1,"p":1.12,"b":"l3"},{"t":41.1,"p":1.40,"b":"l3"},{"t":44.1,"p":0.86,"b":"l3"},{"t":47.1,"p":1.30,"b":"l3"},{"t":50.1,"p":1.48,"b":"l3"},{"t":53.1,"p":1.06,"b":"l3"},{"t":56.1,"p":1.62,"b":"l3"},{"t":59.1,"p":1.18,"b":"l3"},{"t":62.1,"p":0.98,"b":"l3"},{"t":65.1,"p":1.38,"b":"l3"},{"t":68.1,"p":1.26,"b":"l3"},{"t":71.1,"p":1.52,"b":"l3"},{"t":74.1,"p":0.92,"b":"l3"},{"t":77.1,"p":1.14,"b":"l3"},{"t":80.1,"p":1.46,"b":"l3"},{"t":83.1,"p":1.04,"b":"l3"},{"t":86.1,"p":1.36,"b":"l3"},{"t":89.1,"p":1.58,"b":"l3"},{"t":92.1,"p":1.20,"b":"l3"},{"t":95.1,"p":0.96,"b":"l3"},{"t":98.1,"p":1.42,"b":"l3"},
{"t":2,"p":1.20,"b":"l4"},{"t":5,"p":0.98,"b":"l4"},{"t":8,"p":1.45,"b":"l4"},{"t":11,"p":1.12,"b":"l4"},{"t":14,"p":1.35,"b":"l4"},{"t":17,"p":0.90,"b":"l4"},{"t":20,"p":1.52,"b":"l4"},{"t":23,"p":1.05,"b":"l4"},{"t":26,"p":1.28,"b":"l4"},{"t":29,"p":1.40,"b":"l4"},{"t":32,"p":0.86,"b":"l4"},{"t":35,"p":1.18,"b":"l4"},{"t":38,"p":1.58,"b":"l4"},{"t":41,"p":1.00,"b":"l4"},{"t":44,"p":1.30,"b":"l4"},{"t":47,"p":1.10,"b":"l4"},{"t":50,"p":1.48,"b":"l4"},{"t":53,"p":0.94,"b":"l4"},{"t":56,"p":1.24,"b":"l4"},{"t":59,"p":1.38,"b":"l4"},{"t":62,"p":1.03,"b":"l4"},{"t":65,"p":1.55,"b":"l4"},{"t":68,"p":0.88,"b":"l4"},{"t":71,"p":1.26,"b":"l4"},{"t":74,"p":1.42,"b":"l4"},{"t":77,"p":1.08,"b":"l4"},{"t":80,"p":1.33,"b":"l4"},{"t":83,"p":0.96,"b":"l4"},{"t":86,"p":1.50,"b":"l4"},{"t":89,"p":1.15,"b":"l4"},{"t":92,"p":1.36,"b":"l4"},{"t":95,"p":0.92,"b":"l4"},{"t":98,"p":1.22,"b":"l4"},
{"t":0.5,"p":1.32,"b":"l4"},{"t":3.5,"p":1.10,"b":"l4"},{"t":6.5,"p":0.94,"b":"l4"},{"t":9.5,"p":1.48,"b":"l4"},{"t":12.5,"p":1.22,"b":"l4"},{"t":15.5,"p":1.40,"b":"l4"},{"t":18.5,"p":1.00,"b":"l4"},{"t":21.5,"p":1.56,"b":"l4"},{"t":24.5,"p":1.14,"b":"l4"},{"t":27.5,"p":0.88,"b":"l4"},{"t":30.5,"p":1.36,"b":"l4"},{"t":33.5,"p":1.26,"b":"l4"},{"t":36.5,"p":1.52,"b":"l4"},{"t":39.5,"p":1.04,"b":"l4"},{"t":42.5,"p":1.44,"b":"l4"},{"t":45.5,"p":0.92,"b":"l4"},{"t":48.5,"p":1.30,"b":"l4"},{"t":51.5,"p":1.18,"b":"l4"},{"t":54.5,"p":1.60,"b":"l4"},{"t":57.5,"p":0.98,"b":"l4"},{"t":60.5,"p":1.34,"b":"l4"},{"t":63.5,"p":1.12,"b":"l4"},{"t":66.5,"p":1.46,"b":"l4"},{"t":69.5,"p":0.86,"b":"l4"},{"t":72.5,"p":1.28,"b":"l4"},{"t":75.5,"p":1.54,"b":"l4"},{"t":78.5,"p":1.06,"b":"l4"},{"t":81.5,"p":1.38,"b":"l4"},{"t":84.5,"p":1.20,"b":"l4"},{"t":87.5,"p":0.96,"b":"l4"},{"t":90.5,"p":1.42,"b":"l4"},{"t":93.5,"p":1.16,"b":"l4"},{"t":96.5,"p":1.50,"b":"l4"},
{"t":1,"p":1.35,"b":"l5"},{"t":4,"p":1.15,"b":"l5"},{"t":7,"p":1.50,"b":"l5"},{"t":10,"p":1.25,"b":"l5"},{"t":13,"p":1.05,"b":"l5"},{"t":16,"p":1.42,"b":"l5"},{"t":19,"p":1.28,"b":"l5"},{"t":22,"p":1.60,"b":"l5"},{"t":25,"p":1.10,"b":"l5"},{"t":28,"p":1.38,"b":"l5"},{"t":31,"p":1.20,"b":"l5"},{"t":34,"p":1.55,"b":"l5"},{"t":37,"p":1.00,"b":"l5"},{"t":40,"p":1.32,"b":"l5"},{"t":43,"p":1.46,"b":"l5"},{"t":46,"p":1.12,"b":"l5"},{"t":49,"p":1.40,"b":"l5"},{"t":52,"p":1.22,"b":"l5"},{"t":55,"p":1.58,"b":"l5"},{"t":58,"p":1.08,"b":"l5"},{"t":61,"p":1.30,"b":"l5"},{"t":64,"p":1.48,"b":"l5"},{"t":67,"p":1.18,"b":"l5"},{"t":70,"p":1.36,"b":"l5"},{"t":73,"p":1.02,"b":"l5"},{"t":76,"p":1.44,"b":"l5"},{"t":79,"p":1.26,"b":"l5"},{"t":82,"p":1.62,"b":"l5"},{"t":85,"p":1.14,"b":"l5"},{"t":88,"p":1.34,"b":"l5"},{"t":91,"p":1.52,"b":"l5"},{"t":94,"p":1.06,"b":"l5"},{"t":97,"p":1.30,"b":"l5"},
{"t":2.5,"p":1.22,"b":"l5"},{"t":5.5,"p":1.46,"b":"l5"},{"t":8.5,"p":1.10,"b":"l5"},{"t":11.5,"p":1.32,"b":"l5"},{"t":14.5,"p":1.56,"b":"l5"},{"t":17.5,"p":1.18,"b":"l5"},{"t":20.5,"p":1.40,"b":"l5"},{"t":23.5,"p":1.04,"b":"l5"},{"t":26.5,"p":1.28,"b":"l5"},{"t":29.5,"p":1.52,"b":"l5"},{"t":32.5,"p":1.14,"b":"l5"},{"t":35.5,"p":1.36,"b":"l5"},{"t":38.5,"p":1.24,"b":"l5"},{"t":41.5,"p":1.60,"b":"l5"},{"t":44.5,"p":1.08,"b":"l5"},{"t":47.5,"p":1.44,"b":"l5"},{"t":50.5,"p":1.20,"b":"l5"},{"t":53.5,"p":1.34,"b":"l5"},{"t":56.5,"p":1.00,"b":"l5"},{"t":59.5,"p":1.48,"b":"l5"},{"t":62.5,"p":1.16,"b":"l5"},{"t":65.5,"p":1.38,"b":"l5"},{"t":68.5,"p":1.26,"b":"l5"},{"t":71.5,"p":1.54,"b":"l5"},{"t":74.5,"p":1.12,"b":"l5"},{"t":77.5,"p":1.30,"b":"l5"},{"t":80.5,"p":1.42,"b":"l5"},{"t":83.5,"p":1.06,"b":"l5"},{"t":86.5,"p":1.50,"b":"l5"},{"t":89.5,"p":1.22,"b":"l5"},{"t":92.5,"p":1.36,"b":"l5"},{"t":95.5,"p":1.18,"b":"l5"},{"t":98.5,"p":1.58,"b":"l5"},
{"t":2.6,"p":0.95,"b":"l6"},{"t":5.6,"p":1.38,"b":"l6"},{"t":8.6,"p":1.15,"b":"l6"},{"t":11.6,"p":1.55,"b":"l6"},{"t":14.6,"p":0.85,"b":"l6"},{"t":17.6,"p":1.25,"b":"l6"},{"t":20.6,"p":1.45,"b":"l6"},{"t":23.6,"p":1.02,"b":"l6"},{"t":26.6,"p":1.32,"b":"l6"},{"t":29.6,"p":1.60,"b":"l6"},{"t":32.6,"p":0.90,"b":"l6"},{"t":35.6,"p":1.20,"b":"l6"},{"t":38.6,"p":1.42,"b":"l6"},{"t":41.6,"p":1.08,"b":"l6"},{"t":44.6,"p":1.50,"b":"l6"},{"t":47.6,"p":0.88,"b":"l6"},{"t":50.6,"p":1.30,"b":"l6"},{"t":53.6,"p":1.12,"b":"l6"},{"t":56.6,"p":1.58,"b":"l6"},{"t":59.6,"p":0.98,"b":"l6"},{"t":62.6,"p":1.35,"b":"l6"},{"t":65.6,"p":1.22,"b":"l6"},{"t":68.6,"p":0.82,"b":"l6"},{"t":71.6,"p":1.48,"b":"l6"},{"t":74.6,"p":1.05,"b":"l6"},{"t":77.6,"p":1.40,"b":"l6"},{"t":80.6,"p":1.18,"b":"l6"},{"t":83.6,"p":0.92,"b":"l6"},{"t":86.6,"p":1.52,"b":"l6"},{"t":89.6,"p":1.28,"b":"l6"},{"t":92.6,"p":1.00,"b":"l6"},{"t":95.6,"p":1.44,"b":"l6"},{"t":98.6,"p":1.10,"b":"l6"},
{"t":1.1,"p":1.26,"b":"l6"},{"t":4.1,"p":1.04,"b":"l6"},{"t":7.1,"p":1.50,"b":"l6"},{"t":10.1,"p":1.18,"b":"l6"},{"t":13.1,"p":0.90,"b":"l6"},{"t":16.1,"p":1.40,"b":"l6"},{"t":19.1,"p":1.12,"b":"l6"},{"t":22.1,"p":1.62,"b":"l6"},{"t":25.1,"p":1.00,"b":"l6"},{"t":28.1,"p":1.34,"b":"l6"},{"t":31.1,"p":1.22,"b":"l6"},{"t":34.1,"p":0.86,"b":"l6"},{"t":37.1,"p":1.46,"b":"l6"},{"t":40.1,"p":1.16,"b":"l6"},{"t":43.1,"p":1.30,"b":"l6"},{"t":46.1,"p":0.96,"b":"l6"},{"t":49.1,"p":1.56,"b":"l6"},{"t":52.1,"p":1.08,"b":"l6"},{"t":55.1,"p":1.38,"b":"l6"},{"t":58.1,"p":1.24,"b":"l6"},{"t":61.1,"p":0.92,"b":"l6"},{"t":64.1,"p":1.44,"b":"l6"},{"t":67.1,"p":1.14,"b":"l6"},{"t":70.1,"p":1.60,"b":"l6"},{"t":73.1,"p":1.02,"b":"l6"},{"t":76.1,"p":1.28,"b":"l6"},{"t":79.1,"p":0.84,"b":"l6"},{"t":82.1,"p":1.48,"b":"l6"},{"t":85.1,"p":1.20,"b":"l6"},{"t":88.1,"p":1.36,"b":"l6"},{"t":91.1,"p":0.94,"b":"l6"},{"t":94.1,"p":1.54,"b":"l6"},{"t":97.1,"p":1.10,"b":"l6"},
{"t":0.4,"p":1.25,"b":"l7"},{"t":3.4,"p":1.48,"b":"l7"},{"t":6.4,"p":1.02,"b":"l7"},{"t":9.4,"p":1.35,"b":"l7"},{"t":12.4,"p":0.90,"b":"l7"},{"t":15.4,"p":1.18,"b":"l7"},{"t":18.4,"p":1.55,"b":"l7"},{"t":21.4,"p":1.08,"b":"l7"},{"t":24.4,"p":1.42,"b":"l7"},{"t":27.4,"p":0.95,"b":"l7"},{"t":30.4,"p":1.30,"b":"l7"},{"t":33.4,"p":1.12,"b":"l7"},{"t":36.4,"p":1.50,"b":"l7"},{"t":39.4,"p":0.86,"b":"l7"},{"t":42.4,"p":1.22,"b":"l7"},{"t":45.4,"p":1.40,"b":"l7"},{"t":48.4,"p":1.00,"b":"l7"},{"t":51.4,"p":1.33,"b":"l7"},{"t":54.4,"p":1.60,"b":"l7"},{"t":57.4,"p":1.05,"b":"l7"},{"t":60.4,"p":1.28,"b":"l7"},{"t":63.4,"p":0.92,"b":"l7"},{"t":66.4,"p":1.45,"b":"l7"},{"t":69.4,"p":1.16,"b":"l7"},{"t":72.4,"p":1.38,"b":"l7"},{"t":75.4,"p":0.84,"b":"l7"},{"t":78.4,"p":1.20,"b":"l7"},{"t":81.4,"p":1.52,"b":"l7"},{"t":84.4,"p":1.06,"b":"l7"},{"t":87.4,"p":1.34,"b":"l7"},{"t":90.4,"p":0.98,"b":"l7"},{"t":93.4,"p":1.26,"b":"l7"},{"t":96.4,"p":1.46,"b":"l7"},
{"t":1.9,"p":1.04,"b":"l7"},{"t":4.9,"p":1.36,"b":"l7"},{"t":7.9,"p":1.20,"b":"l7"},{"t":10.9,"p":0.88,"b":"l7"},{"t":13.9,"p":1.52,"b":"l7"},{"t":16.9,"p":1.14,"b":"l7"},{"t":19.9,"p":1.30,"b":"l7"},{"t":22.9,"p":0.96,"b":"l7"},{"t":25.9,"p":1.44,"b":"l7"},{"t":28.9,"p":1.24,"b":"l7"},{"t":31.9,"p":1.06,"b":"l7"},{"t":34.9,"p":1.58,"b":"l7"},{"t":37.9,"p":0.92,"b":"l7"},{"t":40.9,"p":1.38,"b":"l7"},{"t":43.9,"p":1.16,"b":"l7"},{"t":46.9,"p":1.48,"b":"l7"},{"t":49.9,"p":1.00,"b":"l7"},{"t":52.9,"p":1.26,"b":"l7"},{"t":55.9,"p":1.42,"b":"l7"},{"t":58.9,"p":0.90,"b":"l7"},{"t":61.9,"p":1.32,"b":"l7"},{"t":64.9,"p":1.54,"b":"l7"},{"t":67.9,"p":1.10,"b":"l7"},{"t":70.9,"p":1.22,"b":"l7"},{"t":73.9,"p":0.94,"b":"l7"},{"t":76.9,"p":1.46,"b":"l7"},{"t":79.9,"p":1.34,"b":"l7"},{"t":82.9,"p":1.02,"b":"l7"},{"t":85.9,"p":1.18,"b":"l7"},{"t":88.9,"p":1.56,"b":"l7"},{"t":91.9,"p":0.98,"b":"l7"},{"t":94.9,"p":1.40,"b":"l7"},{"t":97.9,"p":1.12,"b":"l7"},
{"t":1.8,"p":0.80,"b":"l8"},{"t":4.8,"p":1.30,"b":"l8"},{"t":7.8,"p":1.60,"b":"l8"},{"t":10.8,"p":1.05,"b":"l8"},{"t":13.8,"p":1.40,"b":"l8"},{"t":16.8,"p":0.88,"b":"l8"},{"t":19.8,"p":1.20,"b":"l8"},{"t":22.8,"p":1.52,"b":"l8"},{"t":25.8,"p":0.95,"b":"l8"},{"t":28.8,"p":1.35,"b":"l8"},{"t":31.8,"p":1.65,"b":"l8"},{"t":34.8,"p":1.00,"b":"l8"},{"t":37.8,"p":1.25,"b":"l8"},{"t":40.8,"p":0.78,"b":"l8"},{"t":43.8,"p":1.45,"b":"l8"},{"t":46.8,"p":1.12,"b":"l8"},{"t":49.8,"p":1.58,"b":"l8"},{"t":52.8,"p":0.92,"b":"l8"},{"t":55.8,"p":1.32,"b":"l8"},{"t":58.8,"p":1.08,"b":"l8"},{"t":61.8,"p":1.48,"b":"l8"},{"t":64.8,"p":0.84,"b":"l8"},{"t":67.8,"p":1.22,"b":"l8"},{"t":70.8,"p":1.62,"b":"l8"},{"t":73.8,"p":1.02,"b":"l8"},{"t":76.8,"p":1.38,"b":"l8"},{"t":79.8,"p":0.90,"b":"l8"},{"t":82.8,"p":1.28,"b":"l8"},{"t":85.8,"p":1.55,"b":"l8"},{"t":88.8,"p":1.15,"b":"l8"},{"t":91.8,"p":0.82,"b":"l8"},{"t":94.8,"p":1.42,"b":"l8"},{"t":97.8,"p":1.18,"b":"l8"},
{"t":0.3,"p":1.36,"b":"l8"},{"t":3.3,"p":1.10,"b":"l8"},{"t":6.3,"p":1.48,"b":"l8"},{"t":9.3,"p":0.94,"b":"l8"},{"t":12.3,"p":1.26,"b":"l8"},{"t":15.3,"p":1.58,"b":"l8"},{"t":18.3,"p":1.04,"b":"l8"},{"t":21.3,"p":1.42,"b":"l8"},{"t":24.3,"p":0.86,"b":"l8"},{"t":27.3,"p":1.20,"b":"l8"},{"t":30.3,"p":1.52,"b":"l8"},{"t":33.3,"p":1.16,"b":"l8"},{"t":36.3,"p":0.98,"b":"l8"},{"t":39.3,"p":1.34,"b":"l8"},{"t":42.3,"p":1.62,"b":"l8"},{"t":45.3,"p":1.06,"b":"l8"},{"t":48.3,"p":1.28,"b":"l8"},{"t":51.3,"p":0.90,"b":"l8"},{"t":54.3,"p":1.46,"b":"l8"},{"t":57.3,"p":1.24,"b":"l8"},{"t":60.3,"p":1.02,"b":"l8"},{"t":63.3,"p":1.40,"b":"l8"},{"t":66.3,"p":1.56,"b":"l8"},{"t":69.3,"p":0.88,"b":"l8"},{"t":72.3,"p":1.30,"b":"l8"},{"t":75.3,"p":1.14,"b":"l8"},{"t":78.3,"p":1.50,"b":"l8"},{"t":81.3,"p":0.96,"b":"l8"},{"t":84.3,"p":1.38,"b":"l8"},{"t":87.3,"p":1.22,"b":"l8"},{"t":90.3,"p":1.60,"b":"l8"},{"t":93.3,"p":1.08,"b":"l8"},{"t":96.3,"p":1.32,"b":"l8"},
{"t":0.8,"p":1.15,"b":"l9"},{"t":3.8,"p":1.42,"b":"l9"},{"t":6.8,"p":0.98,"b":"l9"},{"t":9.8,"p":1.28,"b":"l9"},{"t":12.8,"p":1.52,"b":"l9"},{"t":15.8,"p":1.05,"b":"l9"},{"t":18.8,"p":1.35,"b":"l9"},{"t":21.8,"p":0.90,"b":"l9"},{"t":24.8,"p":1.20,"b":"l9"},{"t":27.8,"p":1.46,"b":"l9"},{"t":30.8,"p":1.10,"b":"l9"},{"t":33.8,"p":1.60,"b":"l9"},{"t":36.8,"p":0.94,"b":"l9"},{"t":39.8,"p":1.32,"b":"l9"},{"t":42.8,"p":1.18,"b":"l9"},{"t":45.8,"p":1.48,"b":"l9"},{"t":48.8,"p":1.00,"b":"l9"},{"t":51.8,"p":1.25,"b":"l9"},{"t":54.8,"p":1.56,"b":"l9"},{"t":57.8,"p":0.88,"b":"l9"},{"t":60.8,"p":1.38,"b":"l9"},{"t":63.8,"p":1.12,"b":"l9"},{"t":66.8,"p":1.44,"b":"l9"},{"t":69.8,"p":1.02,"b":"l9"},{"t":72.8,"p":1.30,"b":"l9"},{"t":75.8,"p":1.58,"b":"l9"},{"t":78.8,"p":0.96,"b":"l9"},{"t":81.8,"p":1.22,"b":"l9"},{"t":84.8,"p":1.40,"b":"l9"},{"t":87.8,"p":1.06,"b":"l9"},{"t":90.8,"p":1.34,"b":"l9"},{"t":93.8,"p":0.92,"b":"l9"},{"t":96.8,"p":1.50,"b":"l9"},
{"t":2.3,"p":1.30,"b":"l9"},{"t":5.3,"p":1.04,"b":"l9"},{"t":8.3,"p":1.46,"b":"l9"},{"t":11.3,"p":1.22,"b":"l9"},{"t":14.3,"p":0.96,"b":"l9"},{"t":17.3,"p":1.38,"b":"l9"},{"t":20.3,"p":1.14,"b":"l9"},{"t":23.3,"p":1.56,"b":"l9"},{"t":26.3,"p":1.02,"b":"l9"},{"t":29.3,"p":1.26,"b":"l9"},{"t":32.3,"p":1.42,"b":"l9"},{"t":35.3,"p":0.90,"b":"l9"},{"t":38.3,"p":1.34,"b":"l9"},{"t":41.3,"p":1.18,"b":"l9"},{"t":44.3,"p":1.52,"b":"l9"},{"t":47.3,"p":1.06,"b":"l9"},{"t":50.3,"p":1.40,"b":"l9"},{"t":53.3,"p":0.94,"b":"l9"},{"t":56.3,"p":1.28,"b":"l9"},{"t":59.3,"p":1.48,"b":"l9"},{"t":62.3,"p":1.10,"b":"l9"},{"t":65.3,"p":1.62,"b":"l9"},{"t":68.3,"p":1.00,"b":"l9"},{"t":71.3,"p":1.24,"b":"l9"},{"t":74.3,"p":1.44,"b":"l9"},{"t":77.3,"p":0.92,"b":"l9"},{"t":80.3,"p":1.36,"b":"l9"},{"t":83.3,"p":1.16,"b":"l9"},{"t":86.3,"p":1.54,"b":"l9"},{"t":89.3,"p":1.08,"b":"l9"},{"t":92.3,"p":1.32,"b":"l9"},{"t":95.3,"p":1.20,"b":"l9"},{"t":98.3,"p":0.98,"b":"l9"},
{"t":2.4,"p":1.45,"b":"l10"},{"t":5.4,"p":1.08,"b":"l10"},{"t":8.4,"p":1.30,"b":"l10"},{"t":11.4,"p":0.92,"b":"l10"},{"t":14.4,"p":1.58,"b":"l10"},{"t":17.4,"p":1.18,"b":"l10"},{"t":20.4,"p":1.38,"b":"l10"},{"t":23.4,"p":1.00,"b":"l10"},{"t":26.4,"p":1.25,"b":"l10"},{"t":29.4,"p":1.50,"b":"l10"},{"t":32.4,"p":0.86,"b":"l10"},{"t":35.4,"p":1.35,"b":"l10"},{"t":38.4,"p":1.12,"b":"l10"},{"t":41.4,"p":1.62,"b":"l10"},{"t":44.4,"p":0.96,"b":"l10"},{"t":47.4,"p":1.28,"b":"l10"},{"t":50.4,"p":1.42,"b":"l10"},{"t":53.4,"p":1.04,"b":"l10"},{"t":56.4,"p":1.55,"b":"l10"},{"t":59.4,"p":1.20,"b":"l10"},{"t":62.4,"p":0.90,"b":"l10"},{"t":65.4,"p":1.40,"b":"l10"},{"t":68.4,"p":1.14,"b":"l10"},{"t":71.4,"p":1.32,"b":"l10"},{"t":74.4,"p":0.98,"b":"l10"},{"t":77.4,"p":1.52,"b":"l10"},{"t":80.4,"p":1.22,"b":"l10"},{"t":83.4,"p":0.88,"b":"l10"},{"t":86.4,"p":1.46,"b":"l10"},{"t":89.4,"p":1.10,"b":"l10"},{"t":92.4,"p":1.36,"b":"l10"},{"t":95.4,"p":1.60,"b":"l10"},{"t":98.4,"p":1.02,"b":"l10"},
{"t":0.9,"p":1.16,"b":"l10"},{"t":3.9,"p":1.38,"b":"l10"},{"t":6.9,"p":0.96,"b":"l10"},{"t":9.9,"p":1.28,"b":"l10"},{"t":12.9,"p":1.50,"b":"l10"},{"t":15.9,"p":1.06,"b":"l10"},{"t":18.9,"p":1.34,"b":"l10"},{"t":21.9,"p":1.22,"b":"l10"},{"t":24.9,"p":0.90,"b":"l10"},{"t":27.9,"p":1.46,"b":"l10"},{"t":30.9,"p":1.12,"b":"l10"},{"t":33.9,"p":1.56,"b":"l10"},{"t":36.9,"p":1.02,"b":"l10"},{"t":39.9,"p":1.32,"b":"l10"},{"t":42.9,"p":1.18,"b":"l10"},{"t":45.9,"p":1.44,"b":"l10"},{"t":48.9,"p":0.94,"b":"l10"},{"t":51.9,"p":1.26,"b":"l10"},{"t":54.9,"p":1.40,"b":"l10"},{"t":57.9,"p":1.08,"b":"l10"},{"t":60.9,"p":1.60,"b":"l10"},{"t":63.9,"p":1.00,"b":"l10"},{"t":66.9,"p":1.30,"b":"l10"},{"t":69.9,"p":1.48,"b":"l10"},{"t":72.9,"p":1.14,"b":"l10"},{"t":75.9,"p":0.88,"b":"l10"},{"t":78.9,"p":1.36,"b":"l10"},{"t":81.9,"p":1.24,"b":"l10"},{"t":84.9,"p":1.52,"b":"l10"},{"t":87.9,"p":1.04,"b":"l10"},{"t":90.9,"p":1.20,"b":"l10"},{"t":93.9,"p":1.42,"b":"l10"},{"t":96.9,"p":0.92,"b":"l10"},
{"t":1.2,"p":1.22,"b":"l11"},{"t":4.2,"p":1.38,"b":"l11"},{"t":7.2,"p":1.05,"b":"l11"},{"t":10.2,"p":1.50,"b":"l11"},{"t":13.2,"p":1.15,"b":"l11"},{"t":16.2,"p":0.95,"b":"l11"},{"t":19.2,"p":1.42,"b":"l11"},{"t":22.2,"p":1.28,"b":"l11"},{"t":25.2,"p":1.10,"b":"l11"},{"t":28.2,"p":1.55,"b":"l11"},{"t":31.2,"p":1.00,"b":"l11"},{"t":34.2,"p":1.32,"b":"l11"},{"t":37.2,"p":1.20,"b":"l11"},{"t":40.2,"p":0.90,"b":"l11"},{"t":43.2,"p":1.46,"b":"l11"},{"t":46.2,"p":1.12,"b":"l11"},{"t":49.2,"p":1.36,"b":"l11"},{"t":52.2,"p":1.58,"b":"l11"},{"t":55.2,"p":1.04,"b":"l11"},{"t":58.2,"p":1.26,"b":"l11"},{"t":61.2,"p":0.94,"b":"l11"},{"t":64.2,"p":1.44,"b":"l11"},{"t":67.2,"p":1.18,"b":"l11"},{"t":70.2,"p":1.34,"b":"l11"},{"t":73.2,"p":1.08,"b":"l11"},{"t":76.2,"p":1.52,"b":"l11"},{"t":79.2,"p":0.98,"b":"l11"},{"t":82.2,"p":1.30,"b":"l11"},{"t":85.2,"p":1.40,"b":"l11"},{"t":88.2,"p":1.14,"b":"l11"},{"t":91.2,"p":1.24,"b":"l11"},{"t":94.2,"p":0.92,"b":"l11"},{"t":97.2,"p":1.48,"b":"l11"},
{"t":2.7,"p":1.12,"b":"l11"},{"t":5.7,"p":0.96,"b":"l11"},{"t":8.7,"p":1.36,"b":"l11"},{"t":11.7,"p":1.24,"b":"l11"},{"t":14.7,"p":1.48,"b":"l11"},{"t":17.7,"p":1.02,"b":"l11"},{"t":20.7,"p":1.30,"b":"l11"},{"t":23.7,"p":1.16,"b":"l11"},{"t":26.7,"p":1.54,"b":"l11"},{"t":29.7,"p":0.92,"b":"l11"},{"t":32.7,"p":1.40,"b":"l11"},{"t":35.7,"p":1.08,"b":"l11"},{"t":38.7,"p":1.28,"b":"l11"},{"t":41.7,"p":1.44,"b":"l11"},{"t":44.7,"p":1.00,"b":"l11"},{"t":47.7,"p":1.34,"b":"l11"},{"t":50.7,"p":1.20,"b":"l11"},{"t":53.7,"p":0.88,"b":"l11"},{"t":56.7,"p":1.50,"b":"l11"},{"t":59.7,"p":1.14,"b":"l11"},{"t":62.7,"p":1.38,"b":"l11"},{"t":65.7,"p":1.04,"b":"l11"},{"t":68.7,"p":1.58,"b":"l11"},{"t":71.7,"p":1.26,"b":"l11"},{"t":74.7,"p":0.98,"b":"l11"},{"t":77.7,"p":1.42,"b":"l11"},{"t":80.7,"p":1.10,"b":"l11"},{"t":83.7,"p":1.32,"b":"l11"},{"t":86.7,"p":0.94,"b":"l11"},{"t":89.7,"p":1.46,"b":"l11"},{"t":92.7,"p":1.18,"b":"l11"},{"t":95.7,"p":1.36,"b":"l11"},{"t":98.7,"p":1.06,"b":"l11"},
{"t":2.8,"p":1.50,"b":"l12"},{"t":5.8,"p":1.12,"b":"l12"},{"t":8.8,"p":1.32,"b":"l12"},{"t":11.8,"p":0.98,"b":"l12"},{"t":14.8,"p":1.42,"b":"l12"},{"t":17.8,"p":1.22,"b":"l12"},{"t":20.8,"p":1.60,"b":"l12"},{"t":23.8,"p":1.06,"b":"l12"},{"t":26.8,"p":1.28,"b":"l12"},{"t":29.8,"p":0.88,"b":"l12"},{"t":32.8,"p":1.46,"b":"l12"},{"t":35.8,"p":1.16,"b":"l12"},{"t":38.8,"p":1.36,"b":"l12"},{"t":41.8,"p":1.02,"b":"l12"},{"t":44.8,"p":1.54,"b":"l12"},{"t":47.8,"p":1.20,"b":"l12"},{"t":50.8,"p":0.92,"b":"l12"},{"t":53.8,"p":1.40,"b":"l12"},{"t":56.8,"p":1.10,"b":"l12"},{"t":59.8,"p":1.30,"b":"l12"},{"t":62.8,"p":1.62,"b":"l12"},{"t":65.8,"p":0.96,"b":"l12"},{"t":68.8,"p":1.26,"b":"l12"},{"t":71.8,"p":1.44,"b":"l12"},{"t":74.8,"p":1.08,"b":"l12"},{"t":77.8,"p":1.34,"b":"l12"},{"t":80.8,"p":0.86,"b":"l12"},{"t":83.8,"p":1.52,"b":"l12"},{"t":86.8,"p":1.18,"b":"l12"},{"t":89.8,"p":1.38,"b":"l12"},{"t":92.8,"p":1.00,"b":"l12"},{"t":95.8,"p":1.24,"b":"l12"},{"t":98.8,"p":1.56,"b":"l12"},
{"t":1.3,"p":1.02,"b":"l12"},{"t":4.3,"p":1.40,"b":"l12"},{"t":7.3,"p":1.20,"b":"l12"},{"t":10.3,"p":1.54,"b":"l12"},{"t":13.3,"p":0.94,"b":"l12"},{"t":16.3,"p":1.30,"b":"l12"},{"t":19.3,"p":1.12,"b":"l12"},{"t":22.3,"p":1.46,"b":"l12"},{"t":25.3,"p":1.24,"b":"l12"},{"t":28.3,"p":0.90,"b":"l12"},{"t":31.3,"p":1.38,"b":"l12"},{"t":34.3,"p":1.60,"b":"l12"},{"t":37.3,"p":1.06,"b":"l12"},{"t":40.3,"p":1.28,"b":"l12"},{"t":43.3,"p":1.16,"b":"l12"},{"t":46.3,"p":1.50,"b":"l12"},{"t":49.3,"p":0.98,"b":"l12"},{"t":52.3,"p":1.34,"b":"l12"},{"t":55.3,"p":1.44,"b":"l12"},{"t":58.3,"p":1.08,"b":"l12"},{"t":61.3,"p":1.22,"b":"l12"},{"t":64.3,"p":0.88,"b":"l12"},{"t":67.3,"p":1.48,"b":"l12"},{"t":70.3,"p":1.14,"b":"l12"},{"t":73.3,"p":1.36,"b":"l12"},{"t":76.3,"p":1.56,"b":"l12"},{"t":79.3,"p":1.00,"b":"l12"},{"t":82.3,"p":1.26,"b":"l12"},{"t":85.3,"p":1.42,"b":"l12"},{"t":88.3,"p":0.92,"b":"l12"},{"t":91.3,"p":1.32,"b":"l12"},{"t":94.3,"p":1.18,"b":"l12"},{"t":97.3,"p":1.52,"b":"l12"},
{"t":0.2,"p":1.05,"b":"l13"},{"t":3.2,"p":1.30,"b":"l13"},{"t":6.2,"p":1.52,"b":"l13"},{"t":9.2,"p":0.92,"b":"l13"},{"t":12.2,"p":1.20,"b":"l13"},{"t":15.2,"p":1.40,"b":"l13"},{"t":18.2,"p":1.10,"b":"l13"},{"t":21.2,"p":1.58,"b":"l13"},{"t":24.2,"p":0.98,"b":"l13"},{"t":27.2,"p":1.34,"b":"l13"},{"t":30.2,"p":1.22,"b":"l13"},{"t":33.2,"p":0.86,"b":"l13"},{"t":36.2,"p":1.46,"b":"l13"},{"t":39.2,"p":1.14,"b":"l13"},{"t":42.2,"p":1.36,"b":"l13"},{"t":45.2,"p":1.02,"b":"l13"},{"t":48.2,"p":1.60,"b":"l13"},{"t":51.2,"p":1.26,"b":"l13"},{"t":54.2,"p":0.94,"b":"l13"},{"t":57.2,"p":1.44,"b":"l13"},{"t":60.2,"p":1.16,"b":"l13"},{"t":63.2,"p":1.32,"b":"l13"},{"t":66.2,"p":1.06,"b":"l13"},{"t":69.2,"p":1.50,"b":"l13"},{"t":72.2,"p":0.90,"b":"l13"},{"t":75.2,"p":1.28,"b":"l13"},{"t":78.2,"p":1.42,"b":"l13"},{"t":81.2,"p":1.12,"b":"l13"},{"t":84.2,"p":1.56,"b":"l13"},{"t":87.2,"p":0.96,"b":"l13"},{"t":90.2,"p":1.38,"b":"l13"},{"t":93.2,"p":1.18,"b":"l13"},{"t":96.2,"p":1.48,"b":"l13"},
{"t":1.7,"p":1.38,"b":"l13"},{"t":4.7,"p":1.16,"b":"l13"},{"t":7.7,"p":0.98,"b":"l13"},{"t":10.7,"p":1.44,"b":"l13"},{"t":13.7,"p":1.26,"b":"l13"},{"t":16.7,"p":1.54,"b":"l13"},{"t":19.7,"p":1.08,"b":"l13"},{"t":22.7,"p":1.32,"b":"l13"},{"t":25.7,"p":0.92,"b":"l13"},{"t":28.7,"p":1.48,"b":"l13"},{"t":31.7,"p":1.20,"b":"l13"},{"t":34.7,"p":1.04,"b":"l13"},{"t":37.7,"p":1.40,"b":"l13"},{"t":40.7,"p":1.62,"b":"l13"},{"t":43.7,"p":1.12,"b":"l13"},{"t":46.7,"p":1.30,"b":"l13"},{"t":49.7,"p":0.96,"b":"l13"},{"t":52.7,"p":1.50,"b":"l13"},{"t":55.7,"p":1.24,"b":"l13"},{"t":58.7,"p":1.06,"b":"l13"},{"t":61.7,"p":1.42,"b":"l13"},{"t":64.7,"p":1.18,"b":"l13"},{"t":67.7,"p":1.58,"b":"l13"},{"t":70.7,"p":1.00,"b":"l13"},{"t":73.7,"p":1.34,"b":"l13"},{"t":76.7,"p":1.14,"b":"l13"},{"t":79.7,"p":0.90,"b":"l13"},{"t":82.7,"p":1.46,"b":"l13"},{"t":85.7,"p":1.28,"b":"l13"},{"t":88.7,"p":1.10,"b":"l13"},{"t":91.7,"p":1.52,"b":"l13"},{"t":94.7,"p":1.02,"b":"l13"},{"t":97.7,"p":1.36,"b":"l13"},
{"t":1.6,"p":1.32,"b":"l14"},{"t":4.6,"p":0.96,"b":"l14"},{"t":7.6,"p":1.48,"b":"l14"},{"t":10.6,"p":1.18,"b":"l14"},{"t":13.6,"p":1.62,"b":"l14"},{"t":16.6,"p":1.02,"b":"l14"},{"t":19.6,"p":1.28,"b":"l14"},{"t":22.6,"p":1.42,"b":"l14"},{"t":25.6,"p":0.88,"b":"l14"},{"t":28.6,"p":1.36,"b":"l14"},{"t":31.6,"p":1.12,"b":"l14"},{"t":34.6,"p":1.54,"b":"l14"},{"t":37.6,"p":1.06,"b":"l14"},{"t":40.6,"p":1.24,"b":"l14"},{"t":43.6,"p":0.92,"b":"l14"},{"t":46.6,"p":1.44,"b":"l14"},{"t":49.6,"p":1.20,"b":"l14"},{"t":52.6,"p":1.58,"b":"l14"},{"t":55.6,"p":1.00,"b":"l14"},{"t":58.6,"p":1.34,"b":"l14"},{"t":61.6,"p":1.10,"b":"l14"},{"t":64.6,"p":1.50,"b":"l14"},{"t":67.6,"p":0.94,"b":"l14"},{"t":70.6,"p":1.40,"b":"l14"},{"t":73.6,"p":1.16,"b":"l14"},{"t":76.6,"p":1.26,"b":"l14"},{"t":79.6,"p":0.84,"b":"l14"},{"t":82.6,"p":1.46,"b":"l14"},{"t":85.6,"p":1.22,"b":"l14"},{"t":88.6,"p":1.04,"b":"l14"},{"t":91.6,"p":1.56,"b":"l14"},{"t":94.6,"p":1.14,"b":"l14"},{"t":97.6,"p":1.30,"b":"l14"},
{"t":0.1,"p":1.10,"b":"l14"},{"t":3.1,"p":1.44,"b":"l14"},{"t":6.1,"p":1.24,"b":"l14"},{"t":9.1,"p":0.90,"b":"l14"},{"t":12.1,"p":1.38,"b":"l14"},{"t":15.1,"p":1.54,"b":"l14"},{"t":18.1,"p":1.08,"b":"l14"},{"t":21.1,"p":1.30,"b":"l14"},{"t":24.1,"p":1.16,"b":"l14"},{"t":27.1,"p":1.60,"b":"l14"},{"t":30.1,"p":0.98,"b":"l14"},{"t":33.1,"p":1.42,"b":"l14"},{"t":36.1,"p":1.20,"b":"l14"},{"t":39.1,"p":1.34,"b":"l14"},{"t":42.1,"p":0.86,"b":"l14"},{"t":45.1,"p":1.50,"b":"l14"},{"t":48.1,"p":1.12,"b":"l14"},{"t":51.1,"p":1.28,"b":"l14"},{"t":54.1,"p":1.46,"b":"l14"},{"t":57.1,"p":1.02,"b":"l14"},{"t":60.1,"p":1.36,"b":"l14"},{"t":63.1,"p":1.22,"b":"l14"},{"t":66.1,"p":0.94,"b":"l14"},{"t":69.1,"p":1.56,"b":"l14"},{"t":72.1,"p":1.14,"b":"l14"},{"t":75.1,"p":1.40,"b":"l14"},{"t":78.1,"p":1.04,"b":"l14"},{"t":81.1,"p":1.32,"b":"l14"},{"t":84.1,"p":1.48,"b":"l14"},{"t":87.1,"p":0.92,"b":"l14"},{"t":90.1,"p":1.26,"b":"l14"},{"t":93.1,"p":1.18,"b":"l14"},{"t":96.1,"p":1.52,"b":"l14"},
{"t":2.2,"p":1.18,"b":"l15"},{"t":5.2,"p":1.44,"b":"l15"},{"t":8.2,"p":1.00,"b":"l15"},{"t":11.2,"p":1.34,"b":"l15"},{"t":14.2,"p":1.56,"b":"l15"},{"t":17.2,"p":0.90,"b":"l15"},{"t":20.2,"p":1.26,"b":"l15"},{"t":23.2,"p":1.10,"b":"l15"},{"t":26.2,"p":1.48,"b":"l15"},{"t":29.2,"p":1.22,"b":"l15"},{"t":32.2,"p":0.96,"b":"l15"},{"t":35.2,"p":1.40,"b":"l15"},{"t":38.2,"p":1.14,"b":"l15"},{"t":41.2,"p":1.60,"b":"l15"},{"t":44.2,"p":1.04,"b":"l15"},{"t":47.2,"p":1.30,"b":"l15"},{"t":50.2,"p":0.88,"b":"l15"},{"t":53.2,"p":1.46,"b":"l15"},{"t":56.2,"p":1.20,"b":"l15"},{"t":59.2,"p":1.36,"b":"l15"},{"t":62.2,"p":1.02,"b":"l15"},{"t":65.2,"p":1.52,"b":"l15"},{"t":68.2,"p":1.12,"b":"l15"},{"t":71.2,"p":0.94,"b":"l15"},{"t":74.2,"p":1.42,"b":"l15"},{"t":77.2,"p":1.28,"b":"l15"},{"t":80.2,"p":1.58,"b":"l15"},{"t":83.2,"p":1.08,"b":"l15"},{"t":86.2,"p":1.32,"b":"l15"},{"t":89.2,"p":0.98,"b":"l15"},{"t":92.2,"p":1.24,"b":"l15"},{"t":95.2,"p":1.50,"b":"l15"},{"t":98.2,"p":1.16,"b":"l15"},
{"t":0.7,"p":1.40,"b":"l15"},{"t":3.7,"p":1.06,"b":"l15"},{"t":6.7,"p":1.30,"b":"l15"},{"t":9.7,"p":1.50,"b":"l15"},{"t":12.7,"p":0.92,"b":"l15"},{"t":15.7,"p":1.22,"b":"l15"},{"t":18.7,"p":1.44,"b":"l15"},{"t":21.7,"p":1.12,"b":"l15"},{"t":24.7,"p":1.34,"b":"l15"},{"t":27.7,"p":0.96,"b":"l15"},{"t":30.7,"p":1.58,"b":"l15"},{"t":33.7,"p":1.18,"b":"l15"},{"t":36.7,"p":1.28,"b":"l15"},{"t":39.7,"p":1.04,"b":"l15"},{"t":42.7,"p":1.46,"b":"l15"},{"t":45.7,"p":1.36,"b":"l15"},{"t":48.7,"p":0.90,"b":"l15"},{"t":51.7,"p":1.24,"b":"l15"},{"t":54.7,"p":1.54,"b":"l15"},{"t":57.7,"p":1.08,"b":"l15"},{"t":60.7,"p":1.38,"b":"l15"},{"t":63.7,"p":1.16,"b":"l15"},{"t":66.7,"p":1.48,"b":"l15"},{"t":69.7,"p":0.98,"b":"l15"},{"t":72.7,"p":1.32,"b":"l15"},{"t":75.7,"p":1.20,"b":"l15"},{"t":78.7,"p":1.02,"b":"l15"},{"t":81.7,"p":1.42,"b":"l15"},{"t":84.7,"p":1.26,"b":"l15"},{"t":87.7,"p":1.60,"b":"l15"},{"t":90.7,"p":1.10,"b":"l15"},{"t":93.7,"p":1.36,"b":"l15"},{"t":96.7,"p":0.94,"b":"l15"}
]},
"mark": {"type": "circle", "size": 30, "opacity": 0.7},
"encoding": {
 "x": {"field": "t", "type": "quantitative", "scale": {"domain": [0, 100], "nice": false},
   "axis": {"values": [0, 20, 40, 60, 80, 100], "domain": false, "grid": false, "tickSize": -8, "tickColor": "black", "tickWidth": 1.5, "labelFlush": false, "labelFontSize": 24, "labelColor": "black", "labelPadding": 16, "labelFont": "Liberation Serif", "title": "Time, t [Myr]", "titleFont": "Liberation Serif", "titleFontSize": 28, "titleFontWeight": "normal", "titleColor": "black", "titlePadding": 8}},
 "y": {"field": "p", "type": "quantitative", "scale": {"domain": [0, 6.283185], "nice": false},
   "axis": {"values": [0, 1.570796, 3.141593, 4.712389, 6.283185], "domain": false, "grid": false, "tickSize": -8, "tickColor": "black", "tickWidth": 1.5, "labelFlush": false,
     "labelExpr": "datum.value < 0.1 ? '0' : datum.value < 2 ? ['π', '–', '2'] : datum.value < 3.5 ? 'π' : datum.value < 5 ? ['3π', '—', '2'] : '2π'",
     "labelFontSize": {"condition": {"test": "(datum.value > 1 && datum.value < 2) || (datum.value > 4 && datum.value < 5)", "value": 18}, "value": 24},
     "labelAlign": {"condition": {"test": "(datum.value > 1 && datum.value < 2) || (datum.value > 4 && datum.value < 5)", "value": "center"}, "value": "right"},
     "labelPadding": {"condition": [{"test": "datum.value > 1 && datum.value < 2", "value": 22}, {"test": "datum.value > 4 && datum.value < 5", "value": 26.5}], "value": 17},
     "labelOffset": {"condition": [{"test": "datum.value > 1 && datum.value < 2", "value": -15.5}, {"test": "datum.value > 4 && datum.value < 5", "value": -17}], "value": 0},
     "labelLineHeight": 10.5,
     "labelColor": "black", "labelFont": "Liberation Serif",
     "title": "Resonant argument, φ [°]", "titleFont": "Liberation Serif", "titleFontSize": 28, "titleFontWeight": "normal", "titleColor": "black", "titlePadding": 9}},
 "color": {"field": "b", "type": "nominal", "legend": null,
   "scale": {"domain": ["u1","u2","u3","u4","u5","u6","u7","u8","u9","u10","u11","u12","l1","l2","l3","l4","l5","l6","l7","l8","l9","l10","l11","l12","l13","l14","l15"],
     "range": ["#e8352a","#f06a3a","#3a3af0","#7a1c1c","#e0609e","#80a8e6","#7b7a35","#6a2a9a","#d4a666","#e2dad0","#c42040","#8c3030","#c044d4","#b050e0","#48e848","#d28c38","#98bff2","#f09cf0","#a0705a","#f6d0f6","#9b4ac8","#cc55cc","#b8a060","#c8a0e8","#70d870","#e05ac8","#c08090"]}}
}},
{"data": {"values": [{"x1": 64.5, "x2": 97.7, "y1": 0.21, "y2": 1.0}]},
 "mark": {"type": "rect", "fill": "white", "stroke": "black", "strokeWidth": 2},
 "encoding": {
  "x": {"field": "x1", "type": "quantitative", "scale": {"domain": [0, 100], "nice": false},
    "axis": {"orient": "top", "values": [0, 20, 40, 60, 80, 100], "domain": false, "grid": false, "labels": false, "title": null, "tickSize": -8, "tickColor": "black", "tickWidth": 1.5}},
  "x2": {"field": "x2"},
  "y": {"field": "y1", "type": "quantitative", "scale": {"domain": [0, 6.283185], "nice": false},
    "axis": {"orient": "right", "values": [0, 1.570796, 3.141593, 4.712389, 6.283185], "domain": false, "grid": false, "labels": false, "title": null, "tickSize": -8, "tickColor": "black", "tickWidth": 1.5}},
  "y2": {"field": "y2"}
 }},
{"data": {"values": [{"x": 70.3, "y": 0.544, "s": "N"}]},
 "mark": {"type": "text", "align": "left", "baseline": "alphabetic", "fontSize": 24, "fontStyle": "italic", "font": "Liberation Serif", "color": "black"},
 "encoding": {"x": {"field": "x", "type": "quantitative", "axis": null}, "y": {"field": "y", "type": "quantitative", "axis": null}, "text": {"field": "s"}}},
{"data": {"values": [{"x": 73.2, "y": 0.49, "s": "bodies"}]},
 "mark": {"type": "text", "align": "left", "baseline": "alphabetic", "fontSize": 20, "font": "Liberation Serif", "color": "black"},
 "encoding": {"x": {"field": "x", "type": "quantitative", "axis": null}, "y": {"field": "y", "type": "quantitative", "axis": null}, "text": {"field": "s"}}},
{"data": {"values": [{"x": 85.0, "y": 0.544, "s": "="}]},
 "mark": {"type": "text", "align": "left", "baseline": "alphabetic", "fontSize": 31, "font": "Liberation Serif", "color": "black"},
 "encoding": {"x": {"field": "x", "type": "quantitative", "axis": null}, "y": {"field": "y", "type": "quantitative", "axis": null}, "text": {"field": "s"}}},
{"data": {"values": [{"x": 89.9, "y": 0.544, "s": "27"}]},
 "mark": {"type": "text", "align": "left", "baseline": "alphabetic", "fontSize": 25, "fontWeight": "bold", "font": "Liberation Serif", "color": "black"},
 "encoding": {"x": {"field": "x", "type": "quantitative", "axis": null}, "y": {"field": "y", "type": "quantitative", "axis": null}, "text": {"field": "s"}}}
],
"resolve": {"axis": {"x": "independent", "y": "independent"}}
}
